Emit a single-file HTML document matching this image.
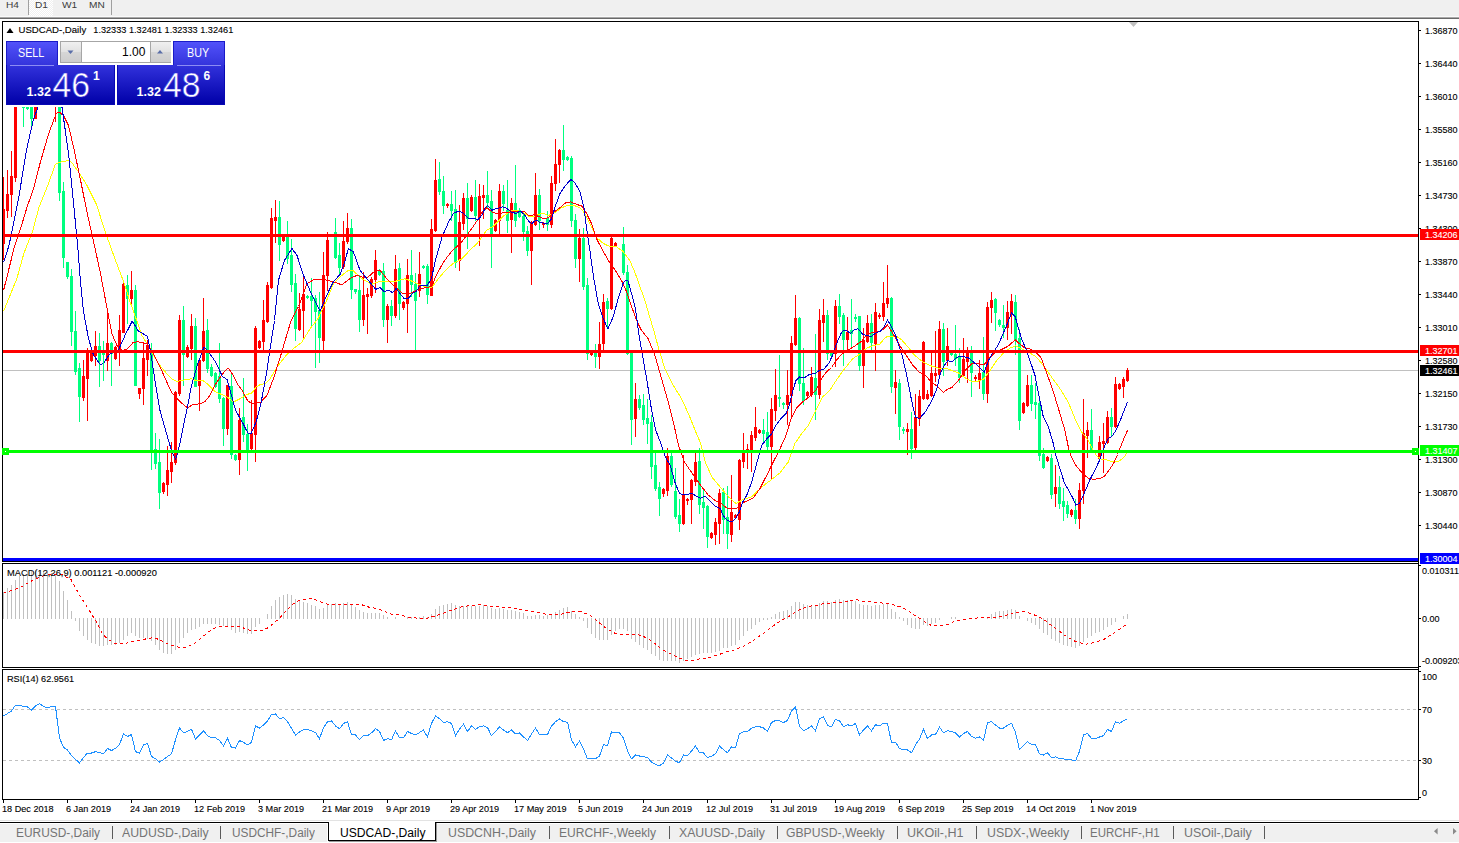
<!DOCTYPE html>
<html><head><meta charset="utf-8"><title>USDCAD-,Daily</title>
<style>
html,body{margin:0;padding:0;background:#fff;}
body{width:1459px;height:843px;overflow:hidden;position:relative;font-family:"Liberation Sans",sans-serif;}
#tb{position:absolute;left:0;top:0;width:1459px;height:16px;background:#f0f0f0;}
.tbt{transform-origin:0 0;transform:scaleX(1.08);position:absolute;top:-1px;font-size:9.4px;line-height:12px;color:#3c3c3c;white-space:nowrap;}
#chart{position:absolute;left:0;top:0;}
svg text{font-family:"Liberation Sans",sans-serif;}
.ax{font-size:9.7px;fill:#000;stroke:#000;stroke-width:0.12px;}
.axw{font-size:9.7px;fill:#fff;stroke:#fff;stroke-width:0.12px;}
.dt{font-size:9px;fill:#000;}
.ttl{font-size:9.5px;fill:#000;}
#tabs{position:absolute;left:0;top:824px;width:1459px;height:18px;background:#f0f0f0;}
.tab{transform-origin:0 0;position:absolute;top:826px;font-size:12px;line-height:14px;color:#747474;white-space:nowrap;}
.sep{position:absolute;top:826px;width:1px;height:13px;background:#5a5a5a;}
/* one click panel */
#ocp{position:absolute;left:6px;top:41px;width:220px;height:66px;background:#fff;}
.pb{position:absolute;background:linear-gradient(#4a4af6,#0000aa);}
.pt{position:absolute;color:#fff;white-space:nowrap;}
</style></head><body>
<div id="tb"></div>
<div style="position:absolute;left:0;top:16px;width:1459px;height:1px;background:#fafafa"></div>
<div style="position:absolute;left:0;top:17px;width:1459px;height:1px;background:#a8a8a8"></div>
<div style="position:absolute;left:0;top:18px;width:1459px;height:1px;background:#696969"></div>
<div style="position:absolute;left:29px;top:0;width:24px;height:16px;background:repeating-conic-gradient(#ffffff 0 25%,#f0f0f0 0 50%) 0 0/2px 2px"></div>
<div style="position:absolute;left:28px;top:0;width:1px;height:15px;background:#a0a0a0"></div>
<div style="position:absolute;left:111px;top:0;width:1px;height:15px;background:#a0a0a0"></div>
<div class="tbt" style="left:5.5px">H4</div>
<div class="tbt" style="left:35px">D1</div>
<div class="tbt" style="left:62px">W1</div>
<div class="tbt" style="left:88.5px">MN</div>

<svg id="chart" width="1459" height="843" viewBox="0 0 1459 843">
<g shape-rendering="crispEdges">
<rect x="3" y="370" width="1415" height="1" fill="#c0c0c0"/>
<path d="M3 709.5H1418M3 760.5H1418" stroke="#c0c0c0" stroke-width="1" stroke-dasharray="3 3" fill="none"/>
<rect x="3" y="592" width="1" height="27" fill="#c0c0c0"/>
<rect x="7" y="588" width="1" height="31" fill="#c0c0c0"/>
<rect x="11" y="585" width="1" height="34" fill="#c0c0c0"/>
<rect x="15" y="580" width="1" height="39" fill="#c0c0c0"/>
<rect x="19" y="576" width="1" height="43" fill="#c0c0c0"/>
<rect x="23" y="574" width="1" height="45" fill="#c0c0c0"/>
<rect x="27" y="572" width="1" height="47" fill="#c0c0c0"/>
<rect x="31" y="571" width="1" height="48" fill="#c0c0c0"/>
<rect x="35" y="570" width="1" height="49" fill="#c0c0c0"/>
<rect x="39" y="570" width="1" height="49" fill="#c0c0c0"/>
<rect x="43" y="571" width="1" height="48" fill="#c0c0c0"/>
<rect x="47" y="572" width="1" height="47" fill="#c0c0c0"/>
<rect x="51" y="573" width="1" height="46" fill="#c0c0c0"/>
<rect x="55" y="576" width="1" height="43" fill="#c0c0c0"/>
<rect x="59" y="581" width="1" height="38" fill="#c0c0c0"/>
<rect x="63" y="591" width="1" height="28" fill="#c0c0c0"/>
<rect x="67" y="600" width="1" height="19" fill="#c0c0c0"/>
<rect x="71" y="611" width="1" height="8" fill="#c0c0c0"/>
<rect x="75" y="618" width="1" height="3" fill="#c0c0c0"/>
<rect x="79" y="618" width="1" height="13" fill="#c0c0c0"/>
<rect x="83" y="618" width="1" height="18" fill="#c0c0c0"/>
<rect x="87" y="618" width="1" height="22" fill="#c0c0c0"/>
<rect x="91" y="618" width="1" height="25" fill="#c0c0c0"/>
<rect x="95" y="618" width="1" height="26" fill="#c0c0c0"/>
<rect x="99" y="618" width="1" height="28" fill="#c0c0c0"/>
<rect x="103" y="618" width="1" height="28" fill="#c0c0c0"/>
<rect x="107" y="618" width="1" height="27" fill="#c0c0c0"/>
<rect x="111" y="618" width="1" height="27" fill="#c0c0c0"/>
<rect x="115" y="618" width="1" height="27" fill="#c0c0c0"/>
<rect x="119" y="618" width="1" height="25" fill="#c0c0c0"/>
<rect x="123" y="618" width="1" height="22" fill="#c0c0c0"/>
<rect x="127" y="618" width="1" height="18" fill="#c0c0c0"/>
<rect x="131" y="618" width="1" height="15" fill="#c0c0c0"/>
<rect x="135" y="618" width="1" height="18" fill="#c0c0c0"/>
<rect x="139" y="618" width="1" height="20" fill="#c0c0c0"/>
<rect x="143" y="618" width="1" height="20" fill="#c0c0c0"/>
<rect x="147" y="618" width="1" height="21" fill="#c0c0c0"/>
<rect x="151" y="618" width="1" height="23" fill="#c0c0c0"/>
<rect x="155" y="618" width="1" height="27" fill="#c0c0c0"/>
<rect x="159" y="618" width="1" height="32" fill="#c0c0c0"/>
<rect x="163" y="618" width="1" height="35" fill="#c0c0c0"/>
<rect x="167" y="618" width="1" height="36" fill="#c0c0c0"/>
<rect x="171" y="618" width="1" height="36" fill="#c0c0c0"/>
<rect x="175" y="618" width="1" height="32" fill="#c0c0c0"/>
<rect x="179" y="618" width="1" height="25" fill="#c0c0c0"/>
<rect x="183" y="618" width="1" height="20" fill="#c0c0c0"/>
<rect x="187" y="618" width="1" height="15" fill="#c0c0c0"/>
<rect x="191" y="618" width="1" height="12" fill="#c0c0c0"/>
<rect x="195" y="618" width="1" height="11" fill="#c0c0c0"/>
<rect x="199" y="618" width="1" height="9" fill="#c0c0c0"/>
<rect x="203" y="618" width="1" height="6" fill="#c0c0c0"/>
<rect x="207" y="618" width="1" height="6" fill="#c0c0c0"/>
<rect x="211" y="618" width="1" height="6" fill="#c0c0c0"/>
<rect x="215" y="618" width="1" height="6" fill="#c0c0c0"/>
<rect x="219" y="618" width="1" height="7" fill="#c0c0c0"/>
<rect x="223" y="618" width="1" height="8" fill="#c0c0c0"/>
<rect x="227" y="618" width="1" height="9" fill="#c0c0c0"/>
<rect x="231" y="618" width="1" height="12" fill="#c0c0c0"/>
<rect x="235" y="618" width="1" height="15" fill="#c0c0c0"/>
<rect x="239" y="618" width="1" height="14" fill="#c0c0c0"/>
<rect x="243" y="618" width="1" height="15" fill="#c0c0c0"/>
<rect x="247" y="618" width="1" height="16" fill="#c0c0c0"/>
<rect x="251" y="618" width="1" height="16" fill="#c0c0c0"/>
<rect x="255" y="618" width="1" height="9" fill="#c0c0c0"/>
<rect x="259" y="618" width="1" height="6" fill="#c0c0c0"/>
<rect x="267" y="614" width="1" height="5" fill="#c0c0c0"/>
<rect x="271" y="606" width="1" height="13" fill="#c0c0c0"/>
<rect x="275" y="600" width="1" height="19" fill="#c0c0c0"/>
<rect x="279" y="597" width="1" height="22" fill="#c0c0c0"/>
<rect x="283" y="595" width="1" height="24" fill="#c0c0c0"/>
<rect x="287" y="594" width="1" height="25" fill="#c0c0c0"/>
<rect x="291" y="595" width="1" height="24" fill="#c0c0c0"/>
<rect x="295" y="599" width="1" height="20" fill="#c0c0c0"/>
<rect x="299" y="601" width="1" height="18" fill="#c0c0c0"/>
<rect x="303" y="602" width="1" height="17" fill="#c0c0c0"/>
<rect x="307" y="603" width="1" height="16" fill="#c0c0c0"/>
<rect x="311" y="605" width="1" height="14" fill="#c0c0c0"/>
<rect x="315" y="606" width="1" height="13" fill="#c0c0c0"/>
<rect x="319" y="609" width="1" height="10" fill="#c0c0c0"/>
<rect x="323" y="608" width="1" height="11" fill="#c0c0c0"/>
<rect x="327" y="605" width="1" height="14" fill="#c0c0c0"/>
<rect x="331" y="604" width="1" height="15" fill="#c0c0c0"/>
<rect x="335" y="603" width="1" height="16" fill="#c0c0c0"/>
<rect x="339" y="604" width="1" height="15" fill="#c0c0c0"/>
<rect x="343" y="603" width="1" height="16" fill="#c0c0c0"/>
<rect x="347" y="602" width="1" height="17" fill="#c0c0c0"/>
<rect x="351" y="605" width="1" height="14" fill="#c0c0c0"/>
<rect x="355" y="607" width="1" height="12" fill="#c0c0c0"/>
<rect x="359" y="610" width="1" height="9" fill="#c0c0c0"/>
<rect x="363" y="612" width="1" height="7" fill="#c0c0c0"/>
<rect x="367" y="613" width="1" height="6" fill="#c0c0c0"/>
<rect x="371" y="613" width="1" height="6" fill="#c0c0c0"/>
<rect x="375" y="613" width="1" height="6" fill="#c0c0c0"/>
<rect x="379" y="613" width="1" height="6" fill="#c0c0c0"/>
<rect x="383" y="615" width="1" height="4" fill="#c0c0c0"/>
<rect x="387" y="617" width="1" height="2" fill="#c0c0c0"/>
<rect x="395" y="617" width="1" height="2" fill="#c0c0c0"/>
<rect x="407" y="617" width="1" height="2" fill="#c0c0c0"/>
<rect x="411" y="617" width="1" height="2" fill="#c0c0c0"/>
<rect x="419" y="617" width="1" height="2" fill="#c0c0c0"/>
<rect x="423" y="616" width="1" height="3" fill="#c0c0c0"/>
<rect x="427" y="617" width="1" height="2" fill="#c0c0c0"/>
<rect x="431" y="614" width="1" height="5" fill="#c0c0c0"/>
<rect x="435" y="609" width="1" height="10" fill="#c0c0c0"/>
<rect x="439" y="606" width="1" height="13" fill="#c0c0c0"/>
<rect x="443" y="605" width="1" height="14" fill="#c0c0c0"/>
<rect x="447" y="604" width="1" height="15" fill="#c0c0c0"/>
<rect x="451" y="603" width="1" height="16" fill="#c0c0c0"/>
<rect x="455" y="605" width="1" height="14" fill="#c0c0c0"/>
<rect x="459" y="606" width="1" height="13" fill="#c0c0c0"/>
<rect x="463" y="606" width="1" height="13" fill="#c0c0c0"/>
<rect x="467" y="605" width="1" height="14" fill="#c0c0c0"/>
<rect x="471" y="606" width="1" height="13" fill="#c0c0c0"/>
<rect x="475" y="606" width="1" height="13" fill="#c0c0c0"/>
<rect x="479" y="606" width="1" height="13" fill="#c0c0c0"/>
<rect x="483" y="605" width="1" height="14" fill="#c0c0c0"/>
<rect x="487" y="606" width="1" height="13" fill="#c0c0c0"/>
<rect x="491" y="608" width="1" height="11" fill="#c0c0c0"/>
<rect x="495" y="609" width="1" height="10" fill="#c0c0c0"/>
<rect x="499" y="608" width="1" height="11" fill="#c0c0c0"/>
<rect x="503" y="609" width="1" height="10" fill="#c0c0c0"/>
<rect x="507" y="610" width="1" height="9" fill="#c0c0c0"/>
<rect x="511" y="610" width="1" height="9" fill="#c0c0c0"/>
<rect x="515" y="611" width="1" height="8" fill="#c0c0c0"/>
<rect x="519" y="612" width="1" height="7" fill="#c0c0c0"/>
<rect x="523" y="613" width="1" height="6" fill="#c0c0c0"/>
<rect x="527" y="616" width="1" height="3" fill="#c0c0c0"/>
<rect x="531" y="616" width="1" height="3" fill="#c0c0c0"/>
<rect x="535" y="615" width="1" height="4" fill="#c0c0c0"/>
<rect x="539" y="615" width="1" height="4" fill="#c0c0c0"/>
<rect x="543" y="616" width="1" height="3" fill="#c0c0c0"/>
<rect x="547" y="615" width="1" height="4" fill="#c0c0c0"/>
<rect x="551" y="614" width="1" height="5" fill="#c0c0c0"/>
<rect x="555" y="612" width="1" height="7" fill="#c0c0c0"/>
<rect x="559" y="610" width="1" height="9" fill="#c0c0c0"/>
<rect x="563" y="608" width="1" height="11" fill="#c0c0c0"/>
<rect x="567" y="607" width="1" height="12" fill="#c0c0c0"/>
<rect x="571" y="611" width="1" height="8" fill="#c0c0c0"/>
<rect x="575" y="614" width="1" height="5" fill="#c0c0c0"/>
<rect x="579" y="617" width="1" height="2" fill="#c0c0c0"/>
<rect x="583" y="618" width="1" height="3" fill="#c0c0c0"/>
<rect x="587" y="618" width="1" height="10" fill="#c0c0c0"/>
<rect x="591" y="618" width="1" height="16" fill="#c0c0c0"/>
<rect x="595" y="618" width="1" height="20" fill="#c0c0c0"/>
<rect x="599" y="618" width="1" height="22" fill="#c0c0c0"/>
<rect x="603" y="618" width="1" height="22" fill="#c0c0c0"/>
<rect x="607" y="618" width="1" height="22" fill="#c0c0c0"/>
<rect x="611" y="618" width="1" height="17" fill="#c0c0c0"/>
<rect x="615" y="618" width="1" height="13" fill="#c0c0c0"/>
<rect x="619" y="618" width="1" height="11" fill="#c0c0c0"/>
<rect x="623" y="618" width="1" height="11" fill="#c0c0c0"/>
<rect x="627" y="618" width="1" height="13" fill="#c0c0c0"/>
<rect x="631" y="618" width="1" height="21" fill="#c0c0c0"/>
<rect x="635" y="618" width="1" height="24" fill="#c0c0c0"/>
<rect x="639" y="618" width="1" height="27" fill="#c0c0c0"/>
<rect x="643" y="618" width="1" height="30" fill="#c0c0c0"/>
<rect x="647" y="618" width="1" height="32" fill="#c0c0c0"/>
<rect x="651" y="618" width="1" height="36" fill="#c0c0c0"/>
<rect x="655" y="618" width="1" height="38" fill="#c0c0c0"/>
<rect x="659" y="618" width="1" height="42" fill="#c0c0c0"/>
<rect x="663" y="618" width="1" height="43" fill="#c0c0c0"/>
<rect x="667" y="618" width="1" height="43" fill="#c0c0c0"/>
<rect x="671" y="618" width="1" height="43" fill="#c0c0c0"/>
<rect x="675" y="618" width="1" height="43" fill="#c0c0c0"/>
<rect x="679" y="618" width="1" height="45" fill="#c0c0c0"/>
<rect x="683" y="618" width="1" height="43" fill="#c0c0c0"/>
<rect x="687" y="618" width="1" height="41" fill="#c0c0c0"/>
<rect x="691" y="618" width="1" height="39" fill="#c0c0c0"/>
<rect x="695" y="618" width="1" height="37" fill="#c0c0c0"/>
<rect x="699" y="618" width="1" height="36" fill="#c0c0c0"/>
<rect x="703" y="618" width="1" height="35" fill="#c0c0c0"/>
<rect x="707" y="618" width="1" height="35" fill="#c0c0c0"/>
<rect x="711" y="618" width="1" height="35" fill="#c0c0c0"/>
<rect x="715" y="618" width="1" height="34" fill="#c0c0c0"/>
<rect x="719" y="618" width="1" height="33" fill="#c0c0c0"/>
<rect x="723" y="618" width="1" height="30" fill="#c0c0c0"/>
<rect x="727" y="618" width="1" height="30" fill="#c0c0c0"/>
<rect x="731" y="618" width="1" height="28" fill="#c0c0c0"/>
<rect x="735" y="618" width="1" height="27" fill="#c0c0c0"/>
<rect x="739" y="618" width="1" height="22" fill="#c0c0c0"/>
<rect x="743" y="618" width="1" height="18" fill="#c0c0c0"/>
<rect x="747" y="618" width="1" height="13" fill="#c0c0c0"/>
<rect x="751" y="618" width="1" height="11" fill="#c0c0c0"/>
<rect x="755" y="618" width="1" height="7" fill="#c0c0c0"/>
<rect x="759" y="618" width="1" height="4" fill="#c0c0c0"/>
<rect x="763" y="618" width="1" height="2" fill="#c0c0c0"/>
<rect x="767" y="618" width="1" height="2" fill="#c0c0c0"/>
<rect x="771" y="617" width="1" height="2" fill="#c0c0c0"/>
<rect x="775" y="614" width="1" height="5" fill="#c0c0c0"/>
<rect x="779" y="612" width="1" height="7" fill="#c0c0c0"/>
<rect x="783" y="611" width="1" height="8" fill="#c0c0c0"/>
<rect x="787" y="610" width="1" height="9" fill="#c0c0c0"/>
<rect x="791" y="606" width="1" height="13" fill="#c0c0c0"/>
<rect x="795" y="602" width="1" height="17" fill="#c0c0c0"/>
<rect x="799" y="602" width="1" height="17" fill="#c0c0c0"/>
<rect x="803" y="604" width="1" height="15" fill="#c0c0c0"/>
<rect x="807" y="605" width="1" height="14" fill="#c0c0c0"/>
<rect x="811" y="605" width="1" height="14" fill="#c0c0c0"/>
<rect x="815" y="605" width="1" height="14" fill="#c0c0c0"/>
<rect x="819" y="603" width="1" height="16" fill="#c0c0c0"/>
<rect x="823" y="601" width="1" height="18" fill="#c0c0c0"/>
<rect x="827" y="601" width="1" height="18" fill="#c0c0c0"/>
<rect x="831" y="602" width="1" height="17" fill="#c0c0c0"/>
<rect x="835" y="600" width="1" height="19" fill="#c0c0c0"/>
<rect x="839" y="599" width="1" height="20" fill="#c0c0c0"/>
<rect x="843" y="600" width="1" height="19" fill="#c0c0c0"/>
<rect x="847" y="600" width="1" height="19" fill="#c0c0c0"/>
<rect x="851" y="601" width="1" height="18" fill="#c0c0c0"/>
<rect x="855" y="601" width="1" height="18" fill="#c0c0c0"/>
<rect x="859" y="604" width="1" height="15" fill="#c0c0c0"/>
<rect x="863" y="605" width="1" height="14" fill="#c0c0c0"/>
<rect x="867" y="605" width="1" height="14" fill="#c0c0c0"/>
<rect x="871" y="606" width="1" height="13" fill="#c0c0c0"/>
<rect x="875" y="605" width="1" height="14" fill="#c0c0c0"/>
<rect x="879" y="605" width="1" height="14" fill="#c0c0c0"/>
<rect x="883" y="604" width="1" height="15" fill="#c0c0c0"/>
<rect x="887" y="603" width="1" height="16" fill="#c0c0c0"/>
<rect x="891" y="609" width="1" height="10" fill="#c0c0c0"/>
<rect x="895" y="612" width="1" height="7" fill="#c0c0c0"/>
<rect x="899" y="617" width="1" height="2" fill="#c0c0c0"/>
<rect x="903" y="618" width="1" height="3" fill="#c0c0c0"/>
<rect x="907" y="618" width="1" height="7" fill="#c0c0c0"/>
<rect x="911" y="618" width="1" height="10" fill="#c0c0c0"/>
<rect x="915" y="618" width="1" height="11" fill="#c0c0c0"/>
<rect x="919" y="618" width="1" height="11" fill="#c0c0c0"/>
<rect x="923" y="618" width="1" height="7" fill="#c0c0c0"/>
<rect x="927" y="618" width="1" height="8" fill="#c0c0c0"/>
<rect x="931" y="618" width="1" height="6" fill="#c0c0c0"/>
<rect x="935" y="618" width="1" height="5" fill="#c0c0c0"/>
<rect x="939" y="618" width="1" height="2" fill="#c0c0c0"/>
<rect x="951" y="617" width="1" height="2" fill="#c0c0c0"/>
<rect x="955" y="617" width="1" height="2" fill="#c0c0c0"/>
<rect x="987" y="617" width="1" height="2" fill="#c0c0c0"/>
<rect x="991" y="614" width="1" height="5" fill="#c0c0c0"/>
<rect x="995" y="612" width="1" height="7" fill="#c0c0c0"/>
<rect x="999" y="611" width="1" height="8" fill="#c0c0c0"/>
<rect x="1003" y="611" width="1" height="8" fill="#c0c0c0"/>
<rect x="1007" y="610" width="1" height="9" fill="#c0c0c0"/>
<rect x="1011" y="609" width="1" height="10" fill="#c0c0c0"/>
<rect x="1015" y="610" width="1" height="9" fill="#c0c0c0"/>
<rect x="1019" y="616" width="1" height="3" fill="#c0c0c0"/>
<rect x="1027" y="618" width="1" height="3" fill="#c0c0c0"/>
<rect x="1031" y="618" width="1" height="5" fill="#c0c0c0"/>
<rect x="1035" y="618" width="1" height="7" fill="#c0c0c0"/>
<rect x="1039" y="618" width="1" height="11" fill="#c0c0c0"/>
<rect x="1043" y="618" width="1" height="15" fill="#c0c0c0"/>
<rect x="1047" y="618" width="1" height="17" fill="#c0c0c0"/>
<rect x="1051" y="618" width="1" height="21" fill="#c0c0c0"/>
<rect x="1055" y="618" width="1" height="23" fill="#c0c0c0"/>
<rect x="1059" y="618" width="1" height="25" fill="#c0c0c0"/>
<rect x="1063" y="618" width="1" height="27" fill="#c0c0c0"/>
<rect x="1067" y="618" width="1" height="28" fill="#c0c0c0"/>
<rect x="1071" y="618" width="1" height="29" fill="#c0c0c0"/>
<rect x="1075" y="618" width="1" height="30" fill="#c0c0c0"/>
<rect x="1079" y="618" width="1" height="28" fill="#c0c0c0"/>
<rect x="1083" y="618" width="1" height="24" fill="#c0c0c0"/>
<rect x="1087" y="618" width="1" height="20" fill="#c0c0c0"/>
<rect x="1091" y="618" width="1" height="18" fill="#c0c0c0"/>
<rect x="1095" y="618" width="1" height="15" fill="#c0c0c0"/>
<rect x="1099" y="618" width="1" height="14" fill="#c0c0c0"/>
<rect x="1103" y="618" width="1" height="12" fill="#c0c0c0"/>
<rect x="1107" y="618" width="1" height="9" fill="#c0c0c0"/>
<rect x="1111" y="618" width="1" height="7" fill="#c0c0c0"/>
<rect x="1115" y="618" width="1" height="4" fill="#c0c0c0"/>
<rect x="1123" y="616" width="1" height="3" fill="#c0c0c0"/>
<rect x="1127" y="614" width="1" height="5" fill="#c0c0c0"/>
<rect x="3" y="177" width="1" height="83" fill="#ff0000"/>
<rect x="2" y="209" width="3" height="35" fill="#ff0000"/>
<rect x="7" y="170" width="1" height="48" fill="#ff0000"/>
<rect x="6" y="194" width="3" height="17" fill="#ff0000"/>
<rect x="11" y="151" width="1" height="66" fill="#ff0000"/>
<rect x="10" y="176" width="3" height="19" fill="#ff0000"/>
<rect x="15" y="107" width="1" height="75" fill="#ff0000"/>
<rect x="14" y="107" width="3" height="71" fill="#ff0000"/>
<rect x="23" y="107" width="1" height="20" fill="#00ff7f"/>
<rect x="22" y="107" width="3" height="1" fill="#00ff7f"/>
<rect x="27" y="107" width="1" height="3" fill="#00ff7f"/>
<rect x="26" y="107" width="3" height="2" fill="#00ff7f"/>
<rect x="31" y="107" width="1" height="19" fill="#00ff7f"/>
<rect x="30" y="107" width="3" height="12" fill="#00ff7f"/>
<rect x="35" y="107" width="1" height="12" fill="#ff0000"/>
<rect x="34" y="107" width="3" height="12" fill="#ff0000"/>
<rect x="55" y="107" width="1" height="15" fill="#ff0000"/>
<rect x="59" y="107" width="1" height="94" fill="#00ff7f"/>
<rect x="58" y="107" width="3" height="86" fill="#00ff7f"/>
<rect x="63" y="182" width="1" height="86" fill="#00ff7f"/>
<rect x="62" y="191" width="3" height="67" fill="#00ff7f"/>
<rect x="67" y="262" width="1" height="17" fill="#00ff7f"/>
<rect x="66" y="262" width="3" height="15" fill="#00ff7f"/>
<rect x="71" y="269" width="1" height="77" fill="#00ff7f"/>
<rect x="70" y="276" width="3" height="56" fill="#00ff7f"/>
<rect x="75" y="311" width="1" height="64" fill="#00ff7f"/>
<rect x="74" y="331" width="3" height="41" fill="#00ff7f"/>
<rect x="79" y="363" width="1" height="59" fill="#00ff7f"/>
<rect x="78" y="368" width="3" height="29" fill="#00ff7f"/>
<rect x="83" y="360" width="1" height="41" fill="#ff0000"/>
<rect x="82" y="376" width="3" height="22" fill="#ff0000"/>
<rect x="87" y="348" width="1" height="73" fill="#ff0000"/>
<rect x="86" y="351" width="3" height="28" fill="#ff0000"/>
<rect x="91" y="350" width="1" height="12" fill="#ff0000"/>
<rect x="90" y="351" width="3" height="10" fill="#ff0000"/>
<rect x="95" y="331" width="1" height="35" fill="#ff0000"/>
<rect x="94" y="346" width="3" height="10" fill="#ff0000"/>
<rect x="99" y="333" width="1" height="54" fill="#00ff7f"/>
<rect x="98" y="346" width="3" height="15" fill="#00ff7f"/>
<rect x="103" y="341" width="1" height="40" fill="#00ff7f"/>
<rect x="102" y="350" width="3" height="5" fill="#00ff7f"/>
<rect x="107" y="311" width="1" height="60" fill="#ff0000"/>
<rect x="106" y="343" width="3" height="18" fill="#ff0000"/>
<rect x="111" y="342" width="1" height="44" fill="#00ff7f"/>
<rect x="110" y="343" width="3" height="11" fill="#00ff7f"/>
<rect x="115" y="346" width="1" height="14" fill="#ff0000"/>
<rect x="114" y="347" width="3" height="12" fill="#ff0000"/>
<rect x="119" y="315" width="1" height="51" fill="#ff0000"/>
<rect x="118" y="330" width="3" height="20" fill="#ff0000"/>
<rect x="123" y="283" width="1" height="50" fill="#ff0000"/>
<rect x="122" y="284" width="3" height="49" fill="#ff0000"/>
<rect x="127" y="275" width="1" height="49" fill="#00ff7f"/>
<rect x="126" y="285" width="3" height="14" fill="#00ff7f"/>
<rect x="131" y="271" width="1" height="36" fill="#ff0000"/>
<rect x="130" y="290" width="3" height="9" fill="#ff0000"/>
<rect x="135" y="285" width="1" height="101" fill="#00ff7f"/>
<rect x="134" y="290" width="3" height="96" fill="#00ff7f"/>
<rect x="139" y="388" width="1" height="11" fill="#ff0000"/>
<rect x="138" y="388" width="3" height="6" fill="#ff0000"/>
<rect x="143" y="342" width="1" height="63" fill="#ff0000"/>
<rect x="142" y="358" width="3" height="31" fill="#ff0000"/>
<rect x="147" y="340" width="1" height="36" fill="#ff0000"/>
<rect x="146" y="345" width="3" height="15" fill="#ff0000"/>
<rect x="151" y="343" width="1" height="127" fill="#00ff7f"/>
<rect x="150" y="350" width="3" height="101" fill="#00ff7f"/>
<rect x="155" y="433" width="1" height="36" fill="#00ff7f"/>
<rect x="154" y="449" width="3" height="15" fill="#00ff7f"/>
<rect x="159" y="439" width="1" height="70" fill="#00ff7f"/>
<rect x="158" y="462" width="3" height="31" fill="#00ff7f"/>
<rect x="163" y="482" width="1" height="12" fill="#ff0000"/>
<rect x="162" y="483" width="3" height="9" fill="#ff0000"/>
<rect x="167" y="446" width="1" height="50" fill="#ff0000"/>
<rect x="166" y="470" width="3" height="15" fill="#ff0000"/>
<rect x="171" y="442" width="1" height="41" fill="#ff0000"/>
<rect x="170" y="462" width="3" height="10" fill="#ff0000"/>
<rect x="175" y="391" width="1" height="74" fill="#ff0000"/>
<rect x="174" y="392" width="3" height="71" fill="#ff0000"/>
<rect x="179" y="315" width="1" height="81" fill="#ff0000"/>
<rect x="178" y="320" width="3" height="74" fill="#ff0000"/>
<rect x="183" y="306" width="1" height="80" fill="#00ff7f"/>
<rect x="182" y="320" width="3" height="35" fill="#00ff7f"/>
<rect x="187" y="345" width="1" height="13" fill="#ff0000"/>
<rect x="186" y="347" width="3" height="10" fill="#ff0000"/>
<rect x="191" y="314" width="1" height="46" fill="#ff0000"/>
<rect x="190" y="326" width="3" height="23" fill="#ff0000"/>
<rect x="195" y="318" width="1" height="69" fill="#00ff7f"/>
<rect x="194" y="326" width="3" height="61" fill="#00ff7f"/>
<rect x="199" y="359" width="1" height="52" fill="#ff0000"/>
<rect x="198" y="360" width="3" height="26" fill="#ff0000"/>
<rect x="203" y="298" width="1" height="64" fill="#ff0000"/>
<rect x="202" y="331" width="3" height="30" fill="#ff0000"/>
<rect x="207" y="319" width="1" height="54" fill="#00ff7f"/>
<rect x="206" y="330" width="3" height="39" fill="#00ff7f"/>
<rect x="211" y="364" width="1" height="13" fill="#00ff7f"/>
<rect x="210" y="367" width="3" height="9" fill="#00ff7f"/>
<rect x="215" y="372" width="1" height="16" fill="#00ff7f"/>
<rect x="214" y="373" width="3" height="14" fill="#00ff7f"/>
<rect x="219" y="343" width="1" height="60" fill="#00ff7f"/>
<rect x="218" y="376" width="3" height="23" fill="#00ff7f"/>
<rect x="223" y="397" width="1" height="49" fill="#00ff7f"/>
<rect x="222" y="398" width="3" height="31" fill="#00ff7f"/>
<rect x="227" y="385" width="1" height="50" fill="#ff0000"/>
<rect x="226" y="385" width="3" height="44" fill="#ff0000"/>
<rect x="231" y="374" width="1" height="85" fill="#00ff7f"/>
<rect x="230" y="386" width="3" height="69" fill="#00ff7f"/>
<rect x="235" y="454" width="1" height="7" fill="#00ff7f"/>
<rect x="234" y="455" width="3" height="5" fill="#00ff7f"/>
<rect x="239" y="408" width="1" height="67" fill="#ff0000"/>
<rect x="238" y="420" width="3" height="40" fill="#ff0000"/>
<rect x="243" y="378" width="1" height="64" fill="#00ff7f"/>
<rect x="242" y="417" width="3" height="18" fill="#00ff7f"/>
<rect x="247" y="424" width="1" height="47" fill="#00ff7f"/>
<rect x="246" y="434" width="3" height="16" fill="#00ff7f"/>
<rect x="251" y="400" width="1" height="51" fill="#ff0000"/>
<rect x="250" y="433" width="3" height="16" fill="#ff0000"/>
<rect x="255" y="326" width="1" height="136" fill="#ff0000"/>
<rect x="254" y="328" width="3" height="107" fill="#ff0000"/>
<rect x="259" y="340" width="1" height="9" fill="#ff0000"/>
<rect x="258" y="341" width="3" height="7" fill="#ff0000"/>
<rect x="263" y="300" width="1" height="50" fill="#ff0000"/>
<rect x="262" y="320" width="3" height="22" fill="#ff0000"/>
<rect x="267" y="282" width="1" height="41" fill="#ff0000"/>
<rect x="266" y="285" width="3" height="37" fill="#ff0000"/>
<rect x="271" y="208" width="1" height="81" fill="#ff0000"/>
<rect x="270" y="218" width="3" height="70" fill="#ff0000"/>
<rect x="275" y="200" width="1" height="43" fill="#ff0000"/>
<rect x="274" y="217" width="3" height="4" fill="#ff0000"/>
<rect x="279" y="201" width="1" height="60" fill="#00ff7f"/>
<rect x="278" y="217" width="3" height="28" fill="#00ff7f"/>
<rect x="283" y="236" width="1" height="6" fill="#ff0000"/>
<rect x="282" y="237" width="3" height="4" fill="#ff0000"/>
<rect x="287" y="221" width="1" height="43" fill="#00ff7f"/>
<rect x="286" y="237" width="3" height="22" fill="#00ff7f"/>
<rect x="291" y="239" width="1" height="53" fill="#00ff7f"/>
<rect x="290" y="255" width="3" height="30" fill="#00ff7f"/>
<rect x="295" y="274" width="1" height="67" fill="#00ff7f"/>
<rect x="294" y="283" width="3" height="46" fill="#00ff7f"/>
<rect x="299" y="293" width="1" height="38" fill="#ff0000"/>
<rect x="298" y="309" width="3" height="21" fill="#ff0000"/>
<rect x="303" y="274" width="1" height="64" fill="#ff0000"/>
<rect x="302" y="294" width="3" height="17" fill="#ff0000"/>
<rect x="307" y="295" width="1" height="4" fill="#00ff7f"/>
<rect x="306" y="296" width="3" height="2" fill="#00ff7f"/>
<rect x="311" y="278" width="1" height="50" fill="#00ff7f"/>
<rect x="310" y="296" width="3" height="5" fill="#00ff7f"/>
<rect x="315" y="295" width="1" height="73" fill="#00ff7f"/>
<rect x="314" y="298" width="3" height="14" fill="#00ff7f"/>
<rect x="319" y="292" width="1" height="71" fill="#00ff7f"/>
<rect x="318" y="310" width="3" height="28" fill="#00ff7f"/>
<rect x="323" y="252" width="1" height="98" fill="#ff0000"/>
<rect x="322" y="275" width="3" height="66" fill="#ff0000"/>
<rect x="327" y="232" width="1" height="59" fill="#ff0000"/>
<rect x="326" y="240" width="3" height="36" fill="#ff0000"/>
<rect x="335" y="218" width="1" height="41" fill="#00ff7f"/>
<rect x="334" y="232" width="3" height="26" fill="#00ff7f"/>
<rect x="339" y="243" width="1" height="31" fill="#00ff7f"/>
<rect x="338" y="255" width="3" height="13" fill="#00ff7f"/>
<rect x="343" y="221" width="1" height="48" fill="#ff0000"/>
<rect x="342" y="241" width="3" height="26" fill="#ff0000"/>
<rect x="347" y="213" width="1" height="31" fill="#ff0000"/>
<rect x="346" y="228" width="3" height="14" fill="#ff0000"/>
<rect x="351" y="219" width="1" height="80" fill="#00ff7f"/>
<rect x="350" y="228" width="3" height="62" fill="#00ff7f"/>
<rect x="355" y="289" width="1" height="5" fill="#00ff7f"/>
<rect x="354" y="289" width="3" height="3" fill="#00ff7f"/>
<rect x="359" y="275" width="1" height="57" fill="#00ff7f"/>
<rect x="358" y="290" width="3" height="30" fill="#00ff7f"/>
<rect x="363" y="272" width="1" height="54" fill="#ff0000"/>
<rect x="362" y="295" width="3" height="25" fill="#ff0000"/>
<rect x="367" y="288" width="1" height="46" fill="#ff0000"/>
<rect x="366" y="294" width="3" height="3" fill="#ff0000"/>
<rect x="371" y="277" width="1" height="21" fill="#ff0000"/>
<rect x="370" y="279" width="3" height="17" fill="#ff0000"/>
<rect x="375" y="250" width="1" height="43" fill="#ff0000"/>
<rect x="374" y="260" width="3" height="20" fill="#ff0000"/>
<rect x="379" y="269" width="1" height="7" fill="#00ff7f"/>
<rect x="378" y="270" width="3" height="5" fill="#00ff7f"/>
<rect x="383" y="263" width="1" height="64" fill="#00ff7f"/>
<rect x="382" y="271" width="3" height="49" fill="#00ff7f"/>
<rect x="387" y="304" width="1" height="39" fill="#ff0000"/>
<rect x="386" y="306" width="3" height="14" fill="#ff0000"/>
<rect x="391" y="300" width="1" height="26" fill="#00ff7f"/>
<rect x="390" y="306" width="3" height="10" fill="#00ff7f"/>
<rect x="395" y="255" width="1" height="63" fill="#ff0000"/>
<rect x="394" y="269" width="3" height="47" fill="#ff0000"/>
<rect x="399" y="263" width="1" height="57" fill="#00ff7f"/>
<rect x="398" y="268" width="3" height="36" fill="#00ff7f"/>
<rect x="403" y="301" width="1" height="9" fill="#ff0000"/>
<rect x="402" y="302" width="3" height="6" fill="#ff0000"/>
<rect x="407" y="259" width="1" height="74" fill="#ff0000"/>
<rect x="406" y="275" width="3" height="29" fill="#ff0000"/>
<rect x="411" y="250" width="1" height="47" fill="#00ff7f"/>
<rect x="410" y="275" width="3" height="10" fill="#00ff7f"/>
<rect x="415" y="273" width="1" height="77" fill="#00ff7f"/>
<rect x="414" y="284" width="3" height="17" fill="#00ff7f"/>
<rect x="419" y="252" width="1" height="45" fill="#ff0000"/>
<rect x="418" y="274" width="3" height="17" fill="#ff0000"/>
<rect x="423" y="265" width="1" height="4" fill="#00ff7f"/>
<rect x="422" y="266" width="3" height="2" fill="#00ff7f"/>
<rect x="427" y="264" width="1" height="40" fill="#00ff7f"/>
<rect x="426" y="266" width="3" height="29" fill="#00ff7f"/>
<rect x="431" y="219" width="1" height="77" fill="#ff0000"/>
<rect x="430" y="229" width="3" height="67" fill="#ff0000"/>
<rect x="435" y="159" width="1" height="73" fill="#ff0000"/>
<rect x="434" y="180" width="3" height="51" fill="#ff0000"/>
<rect x="439" y="162" width="1" height="33" fill="#00ff7f"/>
<rect x="438" y="179" width="3" height="13" fill="#00ff7f"/>
<rect x="443" y="176" width="1" height="38" fill="#00ff7f"/>
<rect x="442" y="191" width="3" height="15" fill="#00ff7f"/>
<rect x="447" y="203" width="1" height="5" fill="#ff0000"/>
<rect x="446" y="204" width="3" height="2" fill="#ff0000"/>
<rect x="451" y="191" width="1" height="30" fill="#00ff7f"/>
<rect x="450" y="204" width="3" height="7" fill="#00ff7f"/>
<rect x="455" y="190" width="1" height="78" fill="#00ff7f"/>
<rect x="454" y="209" width="3" height="54" fill="#00ff7f"/>
<rect x="459" y="205" width="1" height="66" fill="#ff0000"/>
<rect x="458" y="222" width="3" height="39" fill="#ff0000"/>
<rect x="463" y="193" width="1" height="37" fill="#ff0000"/>
<rect x="462" y="198" width="3" height="26" fill="#ff0000"/>
<rect x="467" y="183" width="1" height="66" fill="#00ff7f"/>
<rect x="466" y="198" width="3" height="21" fill="#00ff7f"/>
<rect x="471" y="195" width="1" height="17" fill="#ff0000"/>
<rect x="470" y="197" width="3" height="14" fill="#ff0000"/>
<rect x="475" y="180" width="1" height="41" fill="#00ff7f"/>
<rect x="474" y="197" width="3" height="19" fill="#00ff7f"/>
<rect x="479" y="184" width="1" height="62" fill="#ff0000"/>
<rect x="478" y="196" width="3" height="21" fill="#ff0000"/>
<rect x="483" y="185" width="1" height="34" fill="#ff0000"/>
<rect x="482" y="195" width="3" height="3" fill="#ff0000"/>
<rect x="487" y="171" width="1" height="37" fill="#00ff7f"/>
<rect x="486" y="195" width="3" height="8" fill="#00ff7f"/>
<rect x="491" y="190" width="1" height="78" fill="#00ff7f"/>
<rect x="490" y="201" width="3" height="35" fill="#00ff7f"/>
<rect x="495" y="219" width="1" height="13" fill="#ff0000"/>
<rect x="494" y="220" width="3" height="11" fill="#ff0000"/>
<rect x="499" y="184" width="1" height="52" fill="#ff0000"/>
<rect x="498" y="191" width="3" height="30" fill="#ff0000"/>
<rect x="503" y="185" width="1" height="26" fill="#00ff7f"/>
<rect x="502" y="191" width="3" height="13" fill="#00ff7f"/>
<rect x="507" y="180" width="1" height="53" fill="#00ff7f"/>
<rect x="506" y="210" width="3" height="11" fill="#00ff7f"/>
<rect x="511" y="198" width="1" height="55" fill="#ff0000"/>
<rect x="510" y="203" width="3" height="17" fill="#ff0000"/>
<rect x="515" y="165" width="1" height="62" fill="#00ff7f"/>
<rect x="514" y="203" width="3" height="18" fill="#00ff7f"/>
<rect x="519" y="208" width="1" height="10" fill="#00ff7f"/>
<rect x="518" y="210" width="3" height="7" fill="#00ff7f"/>
<rect x="523" y="213" width="1" height="28" fill="#00ff7f"/>
<rect x="522" y="216" width="3" height="16" fill="#00ff7f"/>
<rect x="527" y="226" width="1" height="30" fill="#00ff7f"/>
<rect x="526" y="231" width="3" height="20" fill="#00ff7f"/>
<rect x="531" y="221" width="1" height="64" fill="#ff0000"/>
<rect x="530" y="223" width="3" height="28" fill="#ff0000"/>
<rect x="535" y="173" width="1" height="53" fill="#ff0000"/>
<rect x="534" y="195" width="3" height="30" fill="#ff0000"/>
<rect x="539" y="189" width="1" height="41" fill="#00ff7f"/>
<rect x="538" y="195" width="3" height="26" fill="#00ff7f"/>
<rect x="543" y="222" width="1" height="6" fill="#ff0000"/>
<rect x="542" y="223" width="3" height="2" fill="#ff0000"/>
<rect x="547" y="211" width="1" height="20" fill="#00ff7f"/>
<rect x="546" y="218" width="3" height="7" fill="#00ff7f"/>
<rect x="551" y="176" width="1" height="52" fill="#ff0000"/>
<rect x="550" y="183" width="3" height="42" fill="#ff0000"/>
<rect x="555" y="139" width="1" height="52" fill="#ff0000"/>
<rect x="554" y="164" width="3" height="20" fill="#ff0000"/>
<rect x="559" y="149" width="1" height="34" fill="#ff0000"/>
<rect x="558" y="150" width="3" height="15" fill="#ff0000"/>
<rect x="563" y="125" width="1" height="46" fill="#00ff7f"/>
<rect x="562" y="150" width="3" height="10" fill="#00ff7f"/>
<rect x="567" y="156" width="1" height="5" fill="#00ff7f"/>
<rect x="566" y="157" width="3" height="3" fill="#00ff7f"/>
<rect x="571" y="156" width="1" height="71" fill="#00ff7f"/>
<rect x="570" y="158" width="3" height="63" fill="#00ff7f"/>
<rect x="575" y="214" width="1" height="54" fill="#00ff7f"/>
<rect x="574" y="220" width="3" height="39" fill="#00ff7f"/>
<rect x="579" y="229" width="1" height="53" fill="#ff0000"/>
<rect x="578" y="238" width="3" height="21" fill="#ff0000"/>
<rect x="583" y="228" width="1" height="62" fill="#00ff7f"/>
<rect x="582" y="238" width="3" height="49" fill="#00ff7f"/>
<rect x="587" y="278" width="1" height="82" fill="#00ff7f"/>
<rect x="586" y="285" width="3" height="69" fill="#00ff7f"/>
<rect x="591" y="352" width="1" height="4" fill="#ff0000"/>
<rect x="590" y="353" width="3" height="2" fill="#ff0000"/>
<rect x="595" y="344" width="1" height="24" fill="#00ff7f"/>
<rect x="594" y="350" width="3" height="7" fill="#00ff7f"/>
<rect x="599" y="322" width="1" height="47" fill="#ff0000"/>
<rect x="598" y="344" width="3" height="13" fill="#ff0000"/>
<rect x="603" y="294" width="1" height="56" fill="#ff0000"/>
<rect x="602" y="302" width="3" height="42" fill="#ff0000"/>
<rect x="607" y="298" width="1" height="31" fill="#00ff7f"/>
<rect x="606" y="301" width="3" height="8" fill="#00ff7f"/>
<rect x="611" y="236" width="1" height="74" fill="#ff0000"/>
<rect x="610" y="238" width="3" height="71" fill="#ff0000"/>
<rect x="615" y="242" width="1" height="5" fill="#ff0000"/>
<rect x="614" y="243" width="3" height="3" fill="#ff0000"/>
<rect x="623" y="227" width="1" height="48" fill="#00ff7f"/>
<rect x="622" y="244" width="3" height="29" fill="#00ff7f"/>
<rect x="627" y="265" width="1" height="90" fill="#00ff7f"/>
<rect x="626" y="272" width="3" height="82" fill="#00ff7f"/>
<rect x="631" y="352" width="1" height="93" fill="#00ff7f"/>
<rect x="630" y="353" width="3" height="67" fill="#00ff7f"/>
<rect x="635" y="383" width="1" height="54" fill="#ff0000"/>
<rect x="634" y="399" width="3" height="20" fill="#ff0000"/>
<rect x="639" y="395" width="1" height="15" fill="#00ff7f"/>
<rect x="638" y="399" width="3" height="9" fill="#00ff7f"/>
<rect x="643" y="394" width="1" height="31" fill="#00ff7f"/>
<rect x="642" y="405" width="3" height="15" fill="#00ff7f"/>
<rect x="647" y="399" width="1" height="45" fill="#00ff7f"/>
<rect x="646" y="418" width="3" height="6" fill="#00ff7f"/>
<rect x="651" y="415" width="1" height="64" fill="#00ff7f"/>
<rect x="650" y="422" width="3" height="45" fill="#00ff7f"/>
<rect x="655" y="453" width="1" height="38" fill="#00ff7f"/>
<rect x="654" y="465" width="3" height="24" fill="#00ff7f"/>
<rect x="659" y="482" width="1" height="34" fill="#00ff7f"/>
<rect x="658" y="487" width="3" height="12" fill="#00ff7f"/>
<rect x="663" y="488" width="1" height="9" fill="#ff0000"/>
<rect x="662" y="489" width="3" height="5" fill="#ff0000"/>
<rect x="667" y="448" width="1" height="48" fill="#ff0000"/>
<rect x="666" y="456" width="3" height="35" fill="#ff0000"/>
<rect x="671" y="452" width="1" height="35" fill="#00ff7f"/>
<rect x="670" y="456" width="3" height="29" fill="#00ff7f"/>
<rect x="675" y="468" width="1" height="51" fill="#00ff7f"/>
<rect x="674" y="491" width="3" height="26" fill="#00ff7f"/>
<rect x="679" y="499" width="1" height="33" fill="#00ff7f"/>
<rect x="678" y="515" width="3" height="9" fill="#00ff7f"/>
<rect x="683" y="455" width="1" height="70" fill="#ff0000"/>
<rect x="682" y="494" width="3" height="30" fill="#ff0000"/>
<rect x="687" y="498" width="1" height="7" fill="#ff0000"/>
<rect x="686" y="499" width="3" height="2" fill="#ff0000"/>
<rect x="691" y="479" width="1" height="45" fill="#ff0000"/>
<rect x="690" y="480" width="3" height="20" fill="#ff0000"/>
<rect x="695" y="452" width="1" height="34" fill="#ff0000"/>
<rect x="694" y="462" width="3" height="20" fill="#ff0000"/>
<rect x="699" y="448" width="1" height="66" fill="#00ff7f"/>
<rect x="698" y="461" width="3" height="44" fill="#00ff7f"/>
<rect x="703" y="489" width="1" height="40" fill="#00ff7f"/>
<rect x="702" y="502" width="3" height="6" fill="#00ff7f"/>
<rect x="707" y="505" width="1" height="43" fill="#00ff7f"/>
<rect x="706" y="506" width="3" height="31" fill="#00ff7f"/>
<rect x="711" y="532" width="1" height="7" fill="#ff0000"/>
<rect x="710" y="533" width="3" height="5" fill="#ff0000"/>
<rect x="715" y="518" width="1" height="27" fill="#ff0000"/>
<rect x="714" y="522" width="3" height="13" fill="#ff0000"/>
<rect x="719" y="489" width="1" height="55" fill="#ff0000"/>
<rect x="718" y="493" width="3" height="31" fill="#ff0000"/>
<rect x="723" y="488" width="1" height="46" fill="#00ff7f"/>
<rect x="722" y="492" width="3" height="28" fill="#00ff7f"/>
<rect x="727" y="486" width="1" height="63" fill="#00ff7f"/>
<rect x="726" y="517" width="3" height="17" fill="#00ff7f"/>
<rect x="731" y="475" width="1" height="67" fill="#ff0000"/>
<rect x="730" y="512" width="3" height="23" fill="#ff0000"/>
<rect x="735" y="514" width="1" height="5" fill="#ff0000"/>
<rect x="734" y="515" width="3" height="3" fill="#ff0000"/>
<rect x="739" y="459" width="1" height="71" fill="#ff0000"/>
<rect x="738" y="460" width="3" height="60" fill="#ff0000"/>
<rect x="743" y="433" width="1" height="35" fill="#ff0000"/>
<rect x="742" y="453" width="3" height="9" fill="#ff0000"/>
<rect x="747" y="444" width="1" height="25" fill="#ff0000"/>
<rect x="746" y="449" width="3" height="3" fill="#ff0000"/>
<rect x="751" y="431" width="1" height="41" fill="#ff0000"/>
<rect x="750" y="435" width="3" height="16" fill="#ff0000"/>
<rect x="755" y="407" width="1" height="34" fill="#ff0000"/>
<rect x="754" y="427" width="3" height="11" fill="#ff0000"/>
<rect x="759" y="429" width="1" height="5" fill="#ff0000"/>
<rect x="758" y="430" width="3" height="3" fill="#ff0000"/>
<rect x="763" y="419" width="1" height="23" fill="#00ff7f"/>
<rect x="762" y="430" width="3" height="4" fill="#00ff7f"/>
<rect x="767" y="412" width="1" height="39" fill="#00ff7f"/>
<rect x="766" y="432" width="3" height="15" fill="#00ff7f"/>
<rect x="771" y="398" width="1" height="82" fill="#ff0000"/>
<rect x="770" y="409" width="3" height="38" fill="#ff0000"/>
<rect x="775" y="369" width="1" height="52" fill="#ff0000"/>
<rect x="774" y="395" width="3" height="16" fill="#ff0000"/>
<rect x="779" y="355" width="1" height="52" fill="#00ff7f"/>
<rect x="778" y="397" width="3" height="2" fill="#00ff7f"/>
<rect x="783" y="402" width="1" height="7" fill="#00ff7f"/>
<rect x="782" y="403" width="3" height="2" fill="#00ff7f"/>
<rect x="787" y="370" width="1" height="55" fill="#ff0000"/>
<rect x="786" y="395" width="3" height="10" fill="#ff0000"/>
<rect x="791" y="336" width="1" height="81" fill="#ff0000"/>
<rect x="790" y="343" width="3" height="53" fill="#ff0000"/>
<rect x="795" y="295" width="1" height="51" fill="#ff0000"/>
<rect x="794" y="318" width="3" height="27" fill="#ff0000"/>
<rect x="799" y="317" width="1" height="74" fill="#00ff7f"/>
<rect x="798" y="318" width="3" height="66" fill="#00ff7f"/>
<rect x="803" y="348" width="1" height="57" fill="#00ff7f"/>
<rect x="802" y="383" width="3" height="18" fill="#00ff7f"/>
<rect x="807" y="391" width="1" height="6" fill="#ff0000"/>
<rect x="806" y="392" width="3" height="4" fill="#ff0000"/>
<rect x="811" y="367" width="1" height="30" fill="#ff0000"/>
<rect x="810" y="377" width="3" height="18" fill="#ff0000"/>
<rect x="815" y="334" width="1" height="86" fill="#00ff7f"/>
<rect x="814" y="378" width="3" height="17" fill="#00ff7f"/>
<rect x="819" y="309" width="1" height="90" fill="#ff0000"/>
<rect x="818" y="320" width="3" height="75" fill="#ff0000"/>
<rect x="823" y="299" width="1" height="43" fill="#ff0000"/>
<rect x="822" y="315" width="3" height="8" fill="#ff0000"/>
<rect x="827" y="310" width="1" height="50" fill="#00ff7f"/>
<rect x="826" y="315" width="3" height="39" fill="#00ff7f"/>
<rect x="831" y="352" width="1" height="5" fill="#00ff7f"/>
<rect x="830" y="353" width="3" height="3" fill="#00ff7f"/>
<rect x="835" y="300" width="1" height="67" fill="#ff0000"/>
<rect x="834" y="306" width="3" height="48" fill="#ff0000"/>
<rect x="839" y="294" width="1" height="30" fill="#00ff7f"/>
<rect x="838" y="306" width="3" height="11" fill="#00ff7f"/>
<rect x="843" y="313" width="1" height="53" fill="#00ff7f"/>
<rect x="842" y="315" width="3" height="25" fill="#00ff7f"/>
<rect x="847" y="317" width="1" height="33" fill="#ff0000"/>
<rect x="846" y="332" width="3" height="8" fill="#ff0000"/>
<rect x="851" y="299" width="1" height="50" fill="#00ff7f"/>
<rect x="850" y="330" width="3" height="4" fill="#00ff7f"/>
<rect x="855" y="314" width="1" height="8" fill="#00ff7f"/>
<rect x="854" y="317" width="3" height="2" fill="#00ff7f"/>
<rect x="859" y="316" width="1" height="55" fill="#00ff7f"/>
<rect x="858" y="316" width="3" height="50" fill="#00ff7f"/>
<rect x="863" y="328" width="1" height="60" fill="#ff0000"/>
<rect x="862" y="340" width="3" height="26" fill="#ff0000"/>
<rect x="867" y="315" width="1" height="28" fill="#ff0000"/>
<rect x="866" y="323" width="3" height="19" fill="#ff0000"/>
<rect x="871" y="314" width="1" height="37" fill="#00ff7f"/>
<rect x="870" y="323" width="3" height="20" fill="#00ff7f"/>
<rect x="875" y="303" width="1" height="68" fill="#ff0000"/>
<rect x="874" y="312" width="3" height="32" fill="#ff0000"/>
<rect x="879" y="313" width="1" height="6" fill="#ff0000"/>
<rect x="878" y="315" width="3" height="2" fill="#ff0000"/>
<rect x="883" y="282" width="1" height="39" fill="#ff0000"/>
<rect x="882" y="303" width="3" height="14" fill="#ff0000"/>
<rect x="887" y="265" width="1" height="43" fill="#ff0000"/>
<rect x="886" y="298" width="3" height="6" fill="#ff0000"/>
<rect x="891" y="297" width="1" height="96" fill="#00ff7f"/>
<rect x="890" y="298" width="3" height="89" fill="#00ff7f"/>
<rect x="895" y="370" width="1" height="44" fill="#ff0000"/>
<rect x="894" y="382" width="3" height="6" fill="#ff0000"/>
<rect x="899" y="379" width="1" height="61" fill="#00ff7f"/>
<rect x="898" y="383" width="3" height="44" fill="#00ff7f"/>
<rect x="903" y="427" width="1" height="7" fill="#00ff7f"/>
<rect x="902" y="429" width="3" height="2" fill="#00ff7f"/>
<rect x="907" y="423" width="1" height="32" fill="#ff0000"/>
<rect x="906" y="429" width="3" height="3" fill="#ff0000"/>
<rect x="911" y="412" width="1" height="47" fill="#00ff7f"/>
<rect x="910" y="429" width="3" height="20" fill="#00ff7f"/>
<rect x="915" y="394" width="1" height="57" fill="#ff0000"/>
<rect x="914" y="417" width="3" height="31" fill="#ff0000"/>
<rect x="919" y="390" width="1" height="36" fill="#ff0000"/>
<rect x="918" y="396" width="3" height="23" fill="#ff0000"/>
<rect x="923" y="341" width="1" height="59" fill="#ff0000"/>
<rect x="922" y="342" width="3" height="57" fill="#ff0000"/>
<rect x="927" y="390" width="1" height="10" fill="#ff0000"/>
<rect x="926" y="394" width="3" height="5" fill="#ff0000"/>
<rect x="931" y="352" width="1" height="45" fill="#ff0000"/>
<rect x="930" y="373" width="3" height="23" fill="#ff0000"/>
<rect x="935" y="331" width="1" height="51" fill="#ff0000"/>
<rect x="934" y="373" width="3" height="3" fill="#ff0000"/>
<rect x="939" y="321" width="1" height="55" fill="#ff0000"/>
<rect x="938" y="329" width="3" height="46" fill="#ff0000"/>
<rect x="943" y="323" width="1" height="53" fill="#00ff7f"/>
<rect x="942" y="329" width="3" height="33" fill="#00ff7f"/>
<rect x="947" y="328" width="1" height="38" fill="#ff0000"/>
<rect x="946" y="346" width="3" height="15" fill="#ff0000"/>
<rect x="951" y="352" width="1" height="4" fill="#00ff7f"/>
<rect x="950" y="353" width="3" height="2" fill="#00ff7f"/>
<rect x="955" y="325" width="1" height="41" fill="#00ff7f"/>
<rect x="954" y="354" width="3" height="5" fill="#00ff7f"/>
<rect x="959" y="348" width="1" height="35" fill="#00ff7f"/>
<rect x="958" y="356" width="3" height="22" fill="#00ff7f"/>
<rect x="963" y="338" width="1" height="39" fill="#ff0000"/>
<rect x="962" y="359" width="3" height="17" fill="#ff0000"/>
<rect x="967" y="347" width="1" height="36" fill="#ff0000"/>
<rect x="966" y="353" width="3" height="9" fill="#ff0000"/>
<rect x="971" y="346" width="1" height="51" fill="#00ff7f"/>
<rect x="970" y="353" width="3" height="20" fill="#00ff7f"/>
<rect x="975" y="375" width="1" height="7" fill="#ff0000"/>
<rect x="974" y="377" width="3" height="2" fill="#ff0000"/>
<rect x="979" y="360" width="1" height="29" fill="#ff0000"/>
<rect x="978" y="373" width="3" height="7" fill="#ff0000"/>
<rect x="983" y="337" width="1" height="63" fill="#00ff7f"/>
<rect x="982" y="372" width="3" height="22" fill="#00ff7f"/>
<rect x="987" y="302" width="1" height="101" fill="#ff0000"/>
<rect x="986" y="307" width="3" height="87" fill="#ff0000"/>
<rect x="991" y="292" width="1" height="31" fill="#ff0000"/>
<rect x="990" y="300" width="3" height="8" fill="#ff0000"/>
<rect x="995" y="298" width="1" height="33" fill="#00ff7f"/>
<rect x="994" y="299" width="3" height="14" fill="#00ff7f"/>
<rect x="999" y="319" width="1" height="8" fill="#00ff7f"/>
<rect x="998" y="320" width="3" height="5" fill="#00ff7f"/>
<rect x="1003" y="305" width="1" height="33" fill="#00ff7f"/>
<rect x="1002" y="325" width="3" height="3" fill="#00ff7f"/>
<rect x="1007" y="301" width="1" height="39" fill="#ff0000"/>
<rect x="1006" y="312" width="3" height="16" fill="#ff0000"/>
<rect x="1011" y="294" width="1" height="40" fill="#ff0000"/>
<rect x="1010" y="301" width="3" height="13" fill="#ff0000"/>
<rect x="1015" y="295" width="1" height="60" fill="#00ff7f"/>
<rect x="1014" y="302" width="3" height="38" fill="#00ff7f"/>
<rect x="1019" y="329" width="1" height="101" fill="#00ff7f"/>
<rect x="1018" y="338" width="3" height="83" fill="#00ff7f"/>
<rect x="1023" y="402" width="1" height="12" fill="#ff0000"/>
<rect x="1022" y="403" width="3" height="10" fill="#ff0000"/>
<rect x="1027" y="375" width="1" height="32" fill="#ff0000"/>
<rect x="1026" y="385" width="3" height="21" fill="#ff0000"/>
<rect x="1031" y="375" width="1" height="36" fill="#00ff7f"/>
<rect x="1030" y="385" width="3" height="19" fill="#00ff7f"/>
<rect x="1035" y="383" width="1" height="36" fill="#00ff7f"/>
<rect x="1034" y="402" width="3" height="3" fill="#00ff7f"/>
<rect x="1039" y="397" width="1" height="64" fill="#00ff7f"/>
<rect x="1038" y="403" width="3" height="53" fill="#00ff7f"/>
<rect x="1043" y="448" width="1" height="21" fill="#00ff7f"/>
<rect x="1042" y="454" width="3" height="14" fill="#00ff7f"/>
<rect x="1047" y="456" width="1" height="6" fill="#ff0000"/>
<rect x="1046" y="457" width="3" height="4" fill="#ff0000"/>
<rect x="1051" y="454" width="1" height="45" fill="#00ff7f"/>
<rect x="1050" y="458" width="3" height="37" fill="#00ff7f"/>
<rect x="1055" y="465" width="1" height="42" fill="#ff0000"/>
<rect x="1054" y="487" width="3" height="7" fill="#ff0000"/>
<rect x="1059" y="476" width="1" height="33" fill="#00ff7f"/>
<rect x="1058" y="487" width="3" height="17" fill="#00ff7f"/>
<rect x="1063" y="488" width="1" height="33" fill="#00ff7f"/>
<rect x="1062" y="501" width="3" height="6" fill="#00ff7f"/>
<rect x="1067" y="501" width="1" height="17" fill="#00ff7f"/>
<rect x="1066" y="505" width="3" height="9" fill="#00ff7f"/>
<rect x="1071" y="509" width="1" height="8" fill="#ff0000"/>
<rect x="1070" y="510" width="3" height="5" fill="#ff0000"/>
<rect x="1075" y="499" width="1" height="25" fill="#00ff7f"/>
<rect x="1074" y="510" width="3" height="9" fill="#00ff7f"/>
<rect x="1079" y="483" width="1" height="46" fill="#ff0000"/>
<rect x="1078" y="490" width="3" height="29" fill="#ff0000"/>
<rect x="1083" y="399" width="1" height="105" fill="#ff0000"/>
<rect x="1082" y="433" width="3" height="58" fill="#ff0000"/>
<rect x="1087" y="422" width="1" height="36" fill="#ff0000"/>
<rect x="1086" y="430" width="3" height="6" fill="#ff0000"/>
<rect x="1091" y="409" width="1" height="44" fill="#00ff7f"/>
<rect x="1090" y="430" width="3" height="20" fill="#00ff7f"/>
<rect x="1099" y="436" width="1" height="25" fill="#ff0000"/>
<rect x="1098" y="442" width="3" height="17" fill="#ff0000"/>
<rect x="1103" y="423" width="1" height="50" fill="#ff0000"/>
<rect x="1102" y="441" width="3" height="3" fill="#ff0000"/>
<rect x="1107" y="411" width="1" height="33" fill="#ff0000"/>
<rect x="1106" y="417" width="3" height="26" fill="#ff0000"/>
<rect x="1111" y="408" width="1" height="28" fill="#00ff7f"/>
<rect x="1110" y="417" width="3" height="10" fill="#00ff7f"/>
<rect x="1115" y="377" width="1" height="51" fill="#ff0000"/>
<rect x="1114" y="384" width="3" height="43" fill="#ff0000"/>
<rect x="1119" y="383" width="1" height="7" fill="#ff0000"/>
<rect x="1118" y="384" width="3" height="5" fill="#ff0000"/>
<rect x="1123" y="377" width="1" height="21" fill="#ff0000"/>
<rect x="1122" y="379" width="3" height="8" fill="#ff0000"/>
<rect x="1127" y="368" width="1" height="14" fill="#ff0000"/>
<rect x="1126" y="370" width="3" height="11" fill="#ff0000"/>
</g>
<g shape-rendering="crispEdges">
<polyline points="3.5,311.5 16.9,278.5 24.0,253.0 32.5,231.5 38.9,207.5 47.5,186.1 55.3,164.5 58.8,162.5 68.5,160.5 71.9,162.8 78.5,171.9 86.9,185.2 96.8,205.2 103.5,226.8 110.1,245.5 116.8,263.8 123.4,281.2 130.1,302.0 136.7,320.3 141.7,335.2 150.0,348.5 158.3,363.5 166.5,373.5 171.5,378.5 176.5,381.5 183.2,380.1 191.5,378.7 196.5,380.9 203.2,380.9 208.1,384.5 214.8,391.3 221.5,394.5 227.1,396.9 233.8,401.9 240.5,398.5 247.1,394.5 252.1,392.8 256.2,386.9 260.4,384.5 265.4,383.5 270.3,378.5 277.0,367.0 286.9,354.5 293.5,348.5 301.9,342.1 310.2,328.5 317.7,319.2 326.8,300.1 333.5,283.5 340.1,276.8 348.4,270.2 353.4,271.0 361.7,278.5 371.7,284.3 380.0,281.3 388.3,281.0 396.5,281.0 404.9,278.8 411.5,281.0 419.8,284.8 426.3,287.0 431.3,287.9 437.1,280.4 445.4,270.4 453.7,263.0 462.0,258.8 468.7,251.5 477.0,243.4 486.9,230.1 493.5,226.0 503.5,216.0 511.0,211.0 516.8,210.2 523.5,212.7 528.5,216.0 535.1,216.0 540.1,213.9 545.1,213.9 548.4,215.5 555.1,212.7 561.7,207.7 568.3,205.2 574.1,205.5 580.0,207.7 584.9,213.5 591.5,226.8 596.5,237.5 603.2,243.4 608.2,245.9 616.5,246.7 623.1,251.5 629.8,260.5 634.8,272.1 639.8,286.2 644.8,300.3 649.7,316.9 654.7,333.5 658.2,347.1 664.9,368.7 673.2,385.3 681.5,398.5 689.8,416.9 696.4,433.5 700.2,442.1 705.2,462.0 711.9,477.0 720.2,487.0 728.5,496.9 735.9,503.5 743.4,499.4 751.7,496.9 758.4,490.3 765.0,484.5 771.7,479.5 780.0,472.8 788.3,462.0 794.9,443.5 801.5,433.8 808.2,425.5 814.4,413.5 822.7,396.9 829.7,390.5 836.4,380.1 844.7,368.5 853.0,358.5 859.6,354.3 866.3,348.5 872.9,345.5 879.5,344.4 884.5,338.5 887.9,336.0 896.2,336.0 901.2,339.4 907.8,346.8 914.5,355.2 922.8,361.8 931.1,365.9 939.4,368.4 947.7,369.0 958.5,372.9 965.2,377.9 971.0,381.2 976.8,381.7 983.5,379.0 990.1,370.4 996.8,360.4 1003.5,353.0 1010.1,348.0 1015.9,345.8 1021.5,348.8 1030.0,353.0 1036.5,357.1 1043.3,365.4 1051.5,377.0 1059.9,388.5 1068.2,402.0 1074.9,418.5 1081.5,431.9 1088.1,440.2 1092.5,449.4 1097.2,456.5 1101.9,459.5 1107.9,460.1 1112.5,461.9 1119.5,460.9 1123.9,457.3 1126.5,453.5" fill="none" stroke="#ffff00" stroke-width="1" />
<polyline points="3.5,290.5 6.9,277.1 14.7,245.5 21.8,224.5 27.1,206.8 33.7,188.5 40.4,162.0 48.7,133.5 56.1,113.8 59.0,111.8 63.5,115.5 68.5,125.5 73.5,147.0 80.2,178.5 86.9,211.8 94.4,245.5 100.2,272.1 106.8,307.0 111.8,333.5 116.8,345.2 121.8,350.5 126.7,349.3 133.4,342.3 138.4,341.8 146.7,343.5 153.3,353.5 160.0,366.8 168.3,385.5 171.5,392.1 176.5,398.0 181.5,402.9 187.4,407.9 193.2,404.5 199.8,403.8 204.8,401.8 209.8,395.5 214.8,385.5 221.5,375.1 228.0,367.8 232.1,373.5 237.1,383.5 242.1,390.3 247.9,401.1 252.1,403.5 260.4,402.5 267.0,395.3 273.5,378.5 280.3,357.0 286.1,337.1 291.1,320.5 298.5,306.5 303.5,293.5 306.9,283.5 315.2,279.0 323.5,279.5 333.5,281.8 341.8,284.8 350.1,278.5 356.7,275.5 366.7,278.2 375.0,271.0 380.0,270.2 386.5,278.5 393.3,285.2 403.2,293.8 409.9,293.5 419.8,288.5 428.1,287.5 433.1,283.5 435.5,277.1 442.1,264.5 447.1,257.1 452.1,250.9 460.4,243.4 467.0,235.1 475.3,223.5 482.0,212.5 486.9,207.7 491.9,211.9 496.9,213.9 503.5,212.7 511.0,212.7 516.8,211.0 523.5,211.0 528.5,215.2 535.1,214.9 540.1,217.2 544.3,218.8 548.4,217.7 553.4,212.7 560.0,207.7 565.8,202.7 570.8,201.9 576.6,204.4 581.6,206.0 586.6,213.5 591.5,223.5 596.5,238.5 603.2,251.5 609.9,263.0 616.5,272.1 622.3,282.1 627.3,293.5 632.3,308.5 636.5,320.3 639.8,327.2 641.6,330.5 648.2,338.8 654.9,355.4 661.5,378.5 668.2,401.9 674.8,428.5 678.5,445.4 684.5,462.0 693.5,475.3 701.9,487.0 708.5,495.3 716.0,501.1 720.2,501.9 724.3,506.1 728.5,508.9 735.1,508.9 739.3,506.9 743.4,502.5 748.4,500.3 753.4,497.8 760.0,488.5 766.7,475.3 773.3,462.0 780.0,448.8 786.1,435.2 791.1,418.5 796.1,408.5 802.7,401.9 811.0,395.3 815.7,390.5 821.5,378.4 826.5,371.8 831.5,367.5 836.5,360.1 841.5,354.3 848.1,350.2 854.7,346.0 861.4,341.5 866.3,335.2 871.3,332.7 878.0,331.9 883.0,329.4 887.5,324.9 892.9,333.5 899.5,345.2 906.2,355.2 912.8,365.1 919.5,372.5 924.5,374.3 931.1,381.7 937.8,386.7 943.5,392.5 947.7,389.0 951.9,387.5 958.5,380.4 965.2,370.4 971.9,363.8 978.5,363.8 984.3,364.5 990.1,357.1 996.8,351.3 1001.5,349.5 1008.2,346.1 1015.2,339.9 1019.8,344.0 1024.8,347.9 1030.0,349.0 1036.5,353.0 1040.8,357.1 1045.0,368.5 1049.9,382.0 1054.9,397.0 1059.9,413.5 1064.9,430.2 1068.7,448.8 1071.1,455.9 1075.8,465.4 1081.7,472.5 1087.7,477.9 1093.5,479.5 1099.5,478.5 1104.3,476.5 1109.0,470.2 1113.8,463.0 1117.5,454.5 1123.2,440.2 1127.5,430.5" fill="none" stroke="#ff0000" stroke-width="1" />
<polyline points="3.5,262.5 9.0,245.5 14.7,217.5 19.0,196.5 22.1,176.5 27.1,147.0 33.7,118.5 37.9,107.5 42.5,92.5 48.5,84.5 54.5,88.5 58.5,96.5 62.0,107.5 65.3,130.5 68.5,153.5 71.9,186.5 75.3,221.5 77.7,245.5 80.2,278.5 83.5,311.5 88.5,338.5 93.5,355.1 100.2,364.5 103.5,363.5 109.3,354.5 118.4,350.1 125.1,335.2 132.2,321.1 138.4,331.0 147.5,336.5 150.0,348.5 155.8,385.5 160.0,410.5 166.5,433.5 171.5,450.5 175.7,459.5 179.1,447.0 183.2,427.0 187.4,407.1 191.5,385.5 197.3,365.1 204.0,346.8 211.5,356.0 216.5,363.5 222.3,376.5 227.1,379.5 230.5,391.9 235.5,410.2 242.1,421.8 247.9,433.1 251.2,433.1 256.2,421.8 261.2,401.9 267.0,370.3 270.3,347.1 274.5,320.5 278.5,280.2 284.5,260.2 291.9,248.5 296.9,255.2 303.5,275.2 311.9,295.1 320.2,310.9 326.8,295.1 333.5,281.5 340.1,274.4 344.3,263.5 348.4,248.5 353.4,251.9 360.0,270.2 366.7,278.5 375.8,289.3 380.0,287.5 384.1,291.8 388.3,290.1 392.5,292.5 396.1,288.5 399.9,293.5 404.1,298.5 408.2,298.5 412.4,293.5 416.5,291.0 419.8,286.0 427.3,285.2 431.5,278.5 435.4,260.5 442.1,236.8 448.7,221.8 453.7,213.2 458.7,211.0 463.7,213.5 468.7,218.8 473.7,218.2 477.8,219.8 482.0,215.2 485.3,207.7 487.8,205.5 491.9,210.2 496.9,208.5 502.7,206.9 506.9,208.5 511.0,211.9 516.0,213.5 520.2,211.0 524.3,214.4 528.5,221.0 531.8,223.8 536.0,219.8 540.1,222.5 547.5,223.8 551.7,218.5 555.1,206.9 560.0,193.5 565.0,186.1 570.8,179.5 575.0,182.8 580.0,191.9 584.1,208.5 586.6,228.5 589.9,250.5 593.3,275.5 598.2,303.5 603.2,318.5 607.9,328.9 613.2,316.9 618.2,298.5 623.2,282.9 625.5,280.1 628.1,281.2 631.5,293.5 635.5,308.5 638.3,330.5 641.6,350.4 646.6,378.5 651.6,410.2 655.7,430.2 660.3,442.1 665.3,457.1 670.3,465.4 675.3,483.5 679.5,493.3 683.5,494.9 691.9,493.5 700.2,498.3 705.2,496.1 710.2,501.1 715.2,506.1 720.2,508.5 723.5,516.0 727.5,520.5 731.8,521.8 735.9,518.5 739.3,511.9 742.5,502.5 746.7,495.3 751.7,482.0 756.7,463.5 761.7,445.4 766.7,438.8 771.5,433.8 776.1,425.2 781.1,418.5 786.1,413.5 789.4,405.2 792.8,390.3 796.1,380.3 799.4,377.0 804.4,377.8 809.4,374.5 815.2,373.4 819.3,370.4 823.5,369.5 828.5,363.7 832.6,355.4 836.0,345.4 838.0,340.2 841.4,332.7 843.9,329.9 847.2,331.1 850.5,333.5 854.7,329.4 858.0,328.9 863.0,334.4 867.1,335.5 871.3,336.5 875.4,333.2 880.4,331.1 884.5,326.1 887.5,319.9 891.2,326.1 896.2,336.9 900.3,350.2 902.1,355.5 907.1,377.0 911.2,398.5 915.4,417.2 919.5,418.5 925.3,411.9 932.0,400.3 937.0,388.5 940.3,373.5 944.4,365.5 947.8,360.5 951.9,361.8 956.9,357.1 962.7,356.3 968.5,357.9 973.5,362.1 980.2,367.9 984.3,372.1 988.5,360.4 991.8,354.5 996.8,347.1 1000.1,340.5 1003.2,333.5 1007.4,323.5 1011.5,312.9 1015.2,316.5 1018.1,327.0 1021.5,338.5 1026.5,350.5 1030.5,362.1 1035.0,375.4 1038.3,392.0 1043.3,416.9 1048.3,426.9 1053.3,443.5 1055.6,454.5 1060.4,470.2 1064.5,483.2 1069.9,492.5 1073.5,499.5 1075.8,505.1 1079.4,503.4 1082.9,496.3 1086.5,487.9 1090.0,479.5 1094.8,470.2 1099.5,460.5 1103.1,450.0 1105.5,444.1 1108.5,438.1 1111.8,436.5 1116.0,430.2 1120.3,420.3 1124.5,409.5 1127.5,401.8" fill="none" stroke="#0000cd" stroke-width="1" />
<polyline points="3.5,593.1 12.0,590.5 21.9,586.5 33.4,579.9 43.3,575.8 53.1,574.2 63.0,575.0 71.2,579.9 79.4,594.8 87.7,607.9 95.9,621.1 102.5,634.2 109.1,640.0 115.5,643.8 123.9,643.8 132.1,641.5 140.3,640.0 151.8,637.8 158.4,639.2 165.0,642.5 171.5,645.4 181.4,647.9 188.0,646.5 194.5,643.3 202.8,636.7 211.0,630.1 217.5,626.8 224.2,626.0 230.8,626.0 240.5,626.8 247.1,629.5 253.5,630.9 260.2,630.9 266.8,628.5 273.4,623.5 280.0,617.8 286.5,610.4 293.1,603.8 299.7,600.0 306.3,598.9 312.9,598.9 319.5,601.3 326.0,603.8 332.5,604.9 345.8,604.9 362.2,604.9 368.8,607.1 375.4,608.2 383.5,610.9 391.8,614.2 400.0,615.0 408.3,617.0 416.5,618.1 428.0,618.1 434.5,616.1 442.8,613.5 451.0,610.4 460.9,607.1 470.8,605.4 480.5,604.9 488.7,605.9 500.2,607.1 513.4,607.9 523.3,609.9 529.8,611.2 541.4,612.8 547.9,615.0 559.4,614.8 566.0,612.8 572.5,611.7 580.8,611.7 589.1,614.8 595.5,619.4 602.2,625.2 608.8,630.1 615.4,633.4 621.9,634.7 638.4,634.7 645.0,637.2 651.5,640.8 656.5,644.9 661.4,649.0 668.0,652.5 674.5,655.9 681.2,658.9 686.1,660.2 692.5,660.5 699.3,658.9 707.5,658.1 714.1,655.9 720.5,654.0 725.5,652.0 732.0,651.0 738.5,648.2 745.2,645.4 751.8,641.5 756.7,637.8 763.3,633.4 769.8,628.5 774.8,624.7 781.4,620.2 787.9,617.0 792.9,613.7 797.8,610.4 804.4,607.9 811.0,605.9 817.5,605.4 822.5,603.8 832.3,603.0 840.5,602.2 850.5,601.0 857.0,599.7 860.3,601.0 868.5,601.0 875.1,602.5 881.7,603.0 889.9,603.8 896.5,605.9 901.4,607.1 908.0,610.4 912.9,614.5 919.5,618.1 926.1,622.7 931.0,625.2 937.5,626.0 944.2,625.2 948.7,624.0 955.3,620.7 961.9,619.8 973.4,618.1 986.5,617.8 996.4,617.0 1003.0,615.8 1009.5,614.5 1014.5,612.5 1022.7,611.7 1027.5,612.5 1032.5,614.2 1039.2,617.0 1045.8,621.1 1052.3,626.3 1058.9,630.9 1065.5,635.9 1070.5,638.8 1075.4,641.5 1080.3,642.9 1086.9,644.1 1093.5,642.8 1100.0,640.8 1105.0,638.8 1111.5,634.5 1118.1,630.1 1123.9,626.3 1127.5,624.0" fill="none" stroke="#ff0000" stroke-width="1" stroke-dasharray="3 3"/>
<polyline points="3.5,716.0 7.5,713.5 11.5,711.1 15.5,705.0 19.5,705.0 23.5,706.5 27.5,706.9 31.5,709.9 35.5,706.1 39.5,703.5 43.5,706.5 47.5,707.8 51.5,706.5 55.5,706.5 59.5,738.2 63.5,747.2 67.5,750.0 71.5,755.5 75.5,759.3 79.5,762.9 83.5,757.5 87.5,753.0 91.5,753.0 95.5,751.7 99.5,752.5 103.5,753.8 107.5,748.5 111.5,750.5 115.5,748.4 119.5,744.5 123.5,733.8 127.5,736.5 131.5,734.5 135.5,751.7 139.5,753.0 143.5,744.8 147.5,743.5 151.5,756.3 155.5,758.8 159.5,762.0 163.5,759.5 167.5,756.5 171.5,753.8 175.5,739.8 179.5,728.0 183.5,732.9 187.5,731.5 191.5,729.2 195.5,739.0 199.5,734.9 203.5,730.8 207.5,735.7 211.5,737.9 215.5,737.9 219.5,740.5 223.5,745.9 227.5,738.2 231.5,747.7 235.5,748.1 239.5,740.5 243.5,742.3 247.5,744.8 251.5,742.3 255.5,725.9 259.5,728.0 263.5,725.0 267.5,720.9 271.5,714.3 275.5,714.0 279.5,718.8 283.5,717.5 287.5,721.8 291.5,728.3 295.5,734.9 299.5,731.9 303.5,729.5 307.5,729.5 311.5,730.8 315.5,732.5 319.5,738.7 323.5,727.5 327.5,721.8 331.5,720.9 335.5,725.9 339.5,728.8 343.5,723.4 347.5,721.8 351.5,734.5 355.5,734.9 359.5,739.8 363.5,735.7 367.5,735.7 371.5,732.9 375.5,728.8 379.5,731.3 383.5,740.5 387.5,738.7 391.5,739.8 395.5,730.8 399.5,737.9 403.5,737.9 407.5,731.5 411.5,733.5 415.5,734.9 419.5,732.5 423.5,730.0 427.5,737.0 431.5,723.4 435.5,716.0 439.5,718.8 443.5,722.5 447.5,721.8 451.5,723.4 455.5,735.7 459.5,729.2 463.5,724.2 467.5,731.5 471.5,725.9 475.5,729.5 479.5,726.5 483.5,725.9 487.5,727.5 491.5,735.7 495.5,731.5 499.5,727.0 503.5,730.0 507.5,732.8 511.5,730.0 515.5,733.8 519.5,732.9 523.5,736.9 527.5,740.5 531.5,734.1 535.5,728.0 539.5,734.5 543.5,734.9 547.5,734.5 551.5,725.9 555.5,721.8 559.5,719.0 563.5,721.8 567.5,722.1 571.5,739.8 575.5,746.8 579.5,741.2 583.5,748.9 587.5,758.8 591.5,758.8 595.5,758.8 599.5,756.0 603.5,744.8 607.5,745.5 611.5,731.9 615.5,732.9 619.5,732.9 623.5,738.2 627.5,751.0 631.5,758.8 635.5,755.0 639.5,756.0 643.5,756.8 647.5,757.5 651.5,762.0 655.5,764.5 659.5,765.8 663.5,762.9 667.5,755.1 671.5,757.9 675.5,761.5 679.5,762.5 683.5,755.0 687.5,755.8 691.5,751.0 695.5,745.9 699.5,752.5 703.5,753.0 707.5,757.5 711.5,756.3 715.5,753.8 719.5,745.9 723.5,749.7 727.5,752.7 731.5,746.9 735.5,747.7 739.5,733.5 743.5,731.9 747.5,731.5 751.5,728.3 755.5,726.7 759.5,726.7 763.5,728.0 767.5,731.5 771.5,722.5 775.5,720.5 779.5,720.9 783.5,722.5 787.5,720.5 791.5,711.1 795.5,706.9 799.5,726.7 803.5,730.8 807.5,728.7 811.5,725.9 815.5,730.8 819.5,718.5 823.5,716.8 827.5,725.4 831.5,726.7 835.5,719.3 839.5,720.9 843.5,726.7 847.5,724.7 851.5,725.9 855.5,723.4 859.5,734.9 863.5,730.0 867.5,725.9 871.5,730.8 875.5,724.7 879.5,725.9 883.5,723.1 887.5,723.1 891.5,742.8 895.5,742.3 899.5,748.4 903.5,749.7 907.5,750.0 911.5,752.7 915.5,744.8 919.5,739.0 923.5,729.2 927.5,738.7 931.5,734.9 935.5,734.5 939.5,727.0 943.5,732.9 947.5,730.8 951.5,731.5 955.5,732.9 959.5,736.9 963.5,733.5 967.5,731.5 971.5,736.5 975.5,738.2 979.5,736.9 983.5,740.5 987.5,722.5 991.5,721.8 995.5,725.0 999.5,728.0 1003.5,728.0 1007.5,725.4 1011.5,723.1 1015.5,732.5 1019.5,749.7 1023.5,745.5 1027.5,741.8 1031.5,744.5 1035.5,744.8 1039.5,753.8 1043.5,755.0 1047.5,752.7 1051.5,757.9 1055.5,756.8 1059.5,758.5 1063.5,758.8 1067.5,759.9 1071.5,759.9 1075.5,760.9 1079.5,751.4 1083.5,734.9 1087.5,733.5 1091.5,738.5 1095.5,738.7 1099.5,737.0 1103.5,735.7 1107.5,729.5 1111.5,731.5 1115.5,721.8 1119.5,723.1 1123.5,720.9 1127.5,718.8" fill="none" stroke="#1e90ff" stroke-width="1" />
</g>
<g shape-rendering="crispEdges">
<rect x="3" y="234" width="1415" height="3" fill="#ff0000"/>
<rect x="3" y="350" width="1415" height="3" fill="#ff0000"/>
<rect x="3" y="450" width="1415" height="3" fill="#00ff00"/>
<rect x="3" y="558" width="1415" height="3" fill="#0000ff"/>
<rect x="2" y="21" width="1417" height="1" fill="#000"/>
<rect x="2" y="21" width="1" height="541" fill="#000"/>
<rect x="2" y="561" width="1417" height="1" fill="#000"/>
<rect x="2" y="563" width="1417" height="1" fill="#000"/>
<rect x="2" y="563" width="1" height="105" fill="#000"/>
<rect x="2" y="667" width="1417" height="1" fill="#000"/>
<rect x="2" y="669" width="1417" height="1" fill="#000"/>
<rect x="2" y="669" width="1" height="131" fill="#000"/>
<rect x="2" y="799" width="1417" height="1" fill="#000"/>
<rect x="1418" y="21" width="1" height="779" fill="#000"/>
<rect x="2" y="448" width="7" height="7" fill="#00ff00"/>
<rect x="5" y="451" width="1" height="1" fill="#fff"/>
<rect x="1412" y="448" width="7" height="7" fill="#00ff00"/>
<rect x="1415" y="451" width="1" height="1" fill="#fff"/>
<path d="M1129 22h9l-4.5 5z" fill="#c0c0c0" shape-rendering="auto"/>
<rect x="1419" y="30" width="2" height="1" fill="#000"/>
<rect x="1419" y="63" width="2" height="1" fill="#000"/>
<rect x="1419" y="96" width="2" height="1" fill="#000"/>
<rect x="1419" y="129" width="2" height="1" fill="#000"/>
<rect x="1419" y="162" width="2" height="1" fill="#000"/>
<rect x="1419" y="195" width="2" height="1" fill="#000"/>
<rect x="1419" y="228" width="2" height="1" fill="#000"/>
<rect x="1419" y="261" width="2" height="1" fill="#000"/>
<rect x="1419" y="294" width="2" height="1" fill="#000"/>
<rect x="1419" y="327" width="2" height="1" fill="#000"/>
<rect x="1419" y="360" width="2" height="1" fill="#000"/>
<rect x="1419" y="393" width="2" height="1" fill="#000"/>
<rect x="1419" y="426" width="2" height="1" fill="#000"/>
<rect x="1419" y="459" width="2" height="1" fill="#000"/>
<rect x="1419" y="492" width="2" height="1" fill="#000"/>
<rect x="1419" y="525" width="2" height="1" fill="#000"/>
<rect x="1419" y="565" width="2" height="1" fill="#000"/>
<rect x="1419" y="618" width="2" height="1" fill="#000"/>
<rect x="1419" y="666" width="2" height="1" fill="#000"/>
<rect x="1419" y="671" width="2" height="1" fill="#000"/>
<rect x="1419" y="709" width="2" height="1" fill="#000"/>
<rect x="1419" y="760" width="2" height="1" fill="#000"/>
<rect x="1419" y="797" width="2" height="1" fill="#000"/>
<rect x="3" y="800" width="1" height="3" fill="#000"/>
<rect x="67" y="800" width="1" height="3" fill="#000"/>
<rect x="131" y="800" width="1" height="3" fill="#000"/>
<rect x="195" y="800" width="1" height="3" fill="#000"/>
<rect x="259" y="800" width="1" height="3" fill="#000"/>
<rect x="323" y="800" width="1" height="3" fill="#000"/>
<rect x="387" y="800" width="1" height="3" fill="#000"/>
<rect x="451" y="800" width="1" height="3" fill="#000"/>
<rect x="515" y="800" width="1" height="3" fill="#000"/>
<rect x="579" y="800" width="1" height="3" fill="#000"/>
<rect x="643" y="800" width="1" height="3" fill="#000"/>
<rect x="707" y="800" width="1" height="3" fill="#000"/>
<rect x="771" y="800" width="1" height="3" fill="#000"/>
<rect x="835" y="800" width="1" height="3" fill="#000"/>
<rect x="899" y="800" width="1" height="3" fill="#000"/>
<rect x="963" y="800" width="1" height="3" fill="#000"/>
<rect x="1027" y="800" width="1" height="3" fill="#000"/>
<rect x="1091" y="800" width="1" height="3" fill="#000"/>
<rect x="1420" y="229" width="39" height="11" fill="#ff0000"/>
<rect x="1420" y="345" width="39" height="11" fill="#ff0000"/>
<rect x="1420" y="365" width="39" height="11" fill="#000"/>
<rect x="1420" y="445" width="39" height="11" fill="#00ff00"/>
<rect x="1420" y="553" width="39" height="11" fill="#0000ff"/>
</g>
<text class="ax" transform="translate(1425,34) scale(0.93,1)">1.36870</text>
<text class="ax" transform="translate(1425,67) scale(0.93,1)">1.36440</text>
<text class="ax" transform="translate(1425,100) scale(0.93,1)">1.36010</text>
<text class="ax" transform="translate(1425,133) scale(0.93,1)">1.35580</text>
<text class="ax" transform="translate(1425,166) scale(0.93,1)">1.35160</text>
<text class="ax" transform="translate(1425,199) scale(0.93,1)">1.34730</text>
<text class="ax" transform="translate(1425,232) scale(0.93,1)">1.34300</text>
<text class="ax" transform="translate(1425,265) scale(0.93,1)">1.33870</text>
<text class="ax" transform="translate(1425,298) scale(0.93,1)">1.33440</text>
<text class="ax" transform="translate(1425,331) scale(0.93,1)">1.33010</text>
<text class="ax" transform="translate(1425,364) scale(0.93,1)">1.32580</text>
<text class="ax" transform="translate(1425,397) scale(0.93,1)">1.32150</text>
<text class="ax" transform="translate(1425,430) scale(0.93,1)">1.31730</text>
<text class="ax" transform="translate(1425,463) scale(0.93,1)">1.31300</text>
<text class="ax" transform="translate(1425,496) scale(0.93,1)">1.30870</text>
<text class="ax" transform="translate(1425,529) scale(0.93,1)">1.30440</text>
<g shape-rendering="crispEdges">
<rect x="1420" y="229" width="39" height="11" fill="#ff0000"/>
<rect x="1420" y="345" width="39" height="11" fill="#ff0000"/>
<rect x="1420" y="365" width="39" height="11" fill="#000"/>
<rect x="1420" y="445" width="39" height="11" fill="#00ff00"/>
<rect x="1420" y="553" width="39" height="11" fill="#0000ff"/>
</g>
<text class="axw" transform="translate(1425,238) scale(0.93,1)">1.34206</text>
<text class="axw" transform="translate(1425,354) scale(0.93,1)">1.32701</text>
<text class="axw" transform="translate(1425,374) scale(0.93,1)">1.32461</text>
<text class="axw" transform="translate(1425,454) scale(0.93,1)">1.31407</text>
<text class="axw" transform="translate(1425,562) scale(0.93,1)">1.30004</text>
<text class="ax" transform="translate(1422,574) scale(0.93,1)">0.010311</text>
<text class="ax" transform="translate(1422,622) scale(0.93,1)">0.00</text>
<text class="ax" transform="translate(1422,664) scale(0.93,1)">-0.009203</text>
<text class="ax" transform="translate(1422,680) scale(0.93,1)">100</text>
<text class="ax" transform="translate(1422,713) scale(0.93,1)">70</text>
<text class="ax" transform="translate(1422,764) scale(0.93,1)">30</text>
<text class="ax" transform="translate(1422,796) scale(0.93,1)">0</text>
<text class="ax" transform="translate(2,812) scale(0.94,1)">18 Dec 2018</text>
<text class="ax" transform="translate(66,812) scale(0.94,1)">6 Jan 2019</text>
<text class="ax" transform="translate(130,812) scale(0.94,1)">24 Jan 2019</text>
<text class="ax" transform="translate(194,812) scale(0.94,1)">12 Feb 2019</text>
<text class="ax" transform="translate(258,812) scale(0.94,1)">3 Mar 2019</text>
<text class="ax" transform="translate(322,812) scale(0.94,1)">21 Mar 2019</text>
<text class="ax" transform="translate(386,812) scale(0.94,1)">9 Apr 2019</text>
<text class="ax" transform="translate(450,812) scale(0.94,1)">29 Apr 2019</text>
<text class="ax" transform="translate(514,812) scale(0.94,1)">17 May 2019</text>
<text class="ax" transform="translate(578,812) scale(0.94,1)">5 Jun 2019</text>
<text class="ax" transform="translate(642,812) scale(0.94,1)">24 Jun 2019</text>
<text class="ax" transform="translate(706,812) scale(0.94,1)">12 Jul 2019</text>
<text class="ax" transform="translate(770,812) scale(0.94,1)">31 Jul 2019</text>
<text class="ax" transform="translate(834,812) scale(0.94,1)">19 Aug 2019</text>
<text class="ax" transform="translate(898,812) scale(0.94,1)">6 Sep 2019</text>
<text class="ax" transform="translate(962,812) scale(0.94,1)">25 Sep 2019</text>
<text class="ax" transform="translate(1026,812) scale(0.94,1)">14 Oct 2019</text>
<text class="ax" transform="translate(1090,812) scale(0.94,1)">1 Nov 2019</text>
<path d="M6.5 33h7l-3.5-5z" fill="#000"/>
<text class="ax" transform="translate(18.5,33) scale(0.99,1)">USDCAD-,Daily</text>
<text class="ax" transform="translate(93.3,33) scale(0.945,1)">1.32333 1.32481 1.32333 1.32461</text>
<text class="ax" transform="translate(7,576) scale(0.961,1)">MACD(12,26,9) 0.001121 -0.000920</text>
<text class="ax" transform="translate(7,682) scale(0.944,1)">RSI(14) 62.9561</text>
</svg>

<!-- one click trading panel -->
<div id="ocp">
  <div class="pb" style="left:0;top:0;width:52px;height:24px;background:linear-gradient(#5252fa,#3434dc);border:1px solid #1a1ac8;border-bottom:none;box-sizing:border-box"></div>
  <div class="pb" style="left:0;top:24px;width:109px;height:40px;background:linear-gradient(#3232dc,#0000a8);border:1px solid #0808b4;border-top:none;box-sizing:border-box"></div>
  <div class="pb" style="left:167px;top:0;width:52px;height:24px;background:linear-gradient(#5252fa,#3434dc);border:1px solid #1a1ac8;border-bottom:none;box-sizing:border-box"></div>
  <div class="pb" style="left:111px;top:24px;width:108px;height:40px;background:linear-gradient(#3232dc,#0000a8);border:1px solid #0808b4;border-top:none;box-sizing:border-box"></div>
  <div style="position:absolute;left:4px;top:24px;width:44px;height:1px;background:#8c8cf4"></div>
  <div style="position:absolute;left:171px;top:24px;width:44px;height:1px;background:#8c8cf4"></div>
  <!-- lot box -->
  <div style="position:absolute;left:54px;top:0;width:111px;height:22px;box-sizing:border-box;border:1px solid #a6a6a6;background:#fff"></div>
  <div style="position:absolute;left:55px;top:1px;width:20px;height:20px;background:linear-gradient(#f0f0f0,#e2e2e2 48%,#d6d6d6 52%,#cdcdcd);border-right:1px solid #a6a6a6"></div>
  <div style="position:absolute;left:144px;top:1px;width:20px;height:20px;background:linear-gradient(#f0f0f0,#e2e2e2 48%,#d6d6d6 52%,#cdcdcd);border-left:1px solid #a6a6a6"></div>
  <svg style="position:absolute;left:0;top:0" width="220" height="66"><path d="M61.5 9.5h6l-3 3.5z" fill="#5a6ea8"/><path d="M151 12.5h6l-3-3.5z" fill="#5a6ea8"/></svg>
  <div class="pt" style="left:116px;top:4px;font-size:12px;line-height:14px;color:#000">1.00</div>
  <div class="pt" id="tsell" style="left:11.7px;top:5px;font-size:12.5px;line-height:14px;transform-origin:0 0;transform:scaleX(0.86)">SELL</div>
  <div class="pt" id="tbuy" style="left:180.5px;top:5px;font-size:12.5px;line-height:14px;transform-origin:0 0;transform:scaleX(0.86)">BUY</div>
  <div class="pt" style="left:20.5px;top:44px;font-size:12.5px;line-height:14px;font-weight:bold">1.32</div>
    <div class="pt" style="left:87px;top:28px;font-size:12px;line-height:14px;font-weight:bold">1</div>
  <div class="pt" style="left:130.5px;top:44px;font-size:12.5px;line-height:14px;font-weight:bold">1.32</div>
    <div class="pt" style="left:197.5px;top:28px;font-size:12px;line-height:14px;font-weight:bold">6</div>
  <svg style="position:absolute;left:0;top:0" width="220" height="66"><defs><linearGradient id="pg" gradientUnits="userSpaceOnUse" x1="0" y1="24" x2="0" y2="64"><stop offset="0" stop-color="#3232dc"/><stop offset="1" stop-color="#0000a8"/></linearGradient></defs>
  <text transform="translate(46.5,56) scale(0.95,1)" font-size="35.5" fill="#fff" stroke="url(#pg)" stroke-width="0.6">46</text>
  <text transform="translate(157,56) scale(0.95,1)" font-size="35.5" fill="#fff" stroke="url(#pg)" stroke-width="0.6">48</text></svg>
</div>

<!-- bottom tabs -->
<div style="position:absolute;left:0;top:820px;width:1459px;height:1px;background:#e3e3e3"></div>
<div style="position:absolute;left:0;top:822px;width:1459px;height:1px;background:#000"></div>
<div id="tabs"></div>
<div style="position:absolute;left:327px;top:823px;width:1px;height:19px;background:#fff"></div>
<div style="position:absolute;left:328px;top:822px;width:108px;height:19px;box-sizing:border-box;background:#fff;border:1px solid #000;border-top:none;box-shadow:1px 1px 0 #9a9a9a"></div>
<div class="tab" style="left:15.8px;transform:scaleX(0.993)">EURUSD-,Daily</div><div class="sep" style="left:112px"></div>
<div class="tab" style="left:122px;transform:scaleX(1.024)">AUDUSD-,Daily</div><div class="sep" style="left:220px"></div>
<div class="tab" style="left:232.4px;transform:scaleX(0.987)">USDCHF-,Daily</div>
<div class="tab" style="left:339.5px;color:#000;transform:scaleX(1.01)">USDCAD-,Daily</div>
<div class="tab" style="left:448px;transform:scaleX(1.031)">USDCNH-,Daily</div><div class="sep" style="left:549px"></div>
<div class="tab" style="left:559px;transform:scaleX(1.006)">EURCHF-,Weekly</div><div class="sep" style="left:669px"></div>
<div class="tab" style="left:679px;transform:scaleX(1.022)">XAUUSD-,Daily</div><div class="sep" style="left:777px"></div>
<div class="tab" style="left:786.3px;transform:scaleX(1.016)">GBPUSD-,Weekly</div><div class="sep" style="left:897px"></div>
<div class="tab" style="left:907px;transform:scaleX(1.046)">UKOil-,H1</div><div class="sep" style="left:976px"></div>
<div class="tab" style="left:986.5px;transform:scaleX(1.03)">USDX-,Weekly</div><div class="sep" style="left:1081px"></div>
<div class="tab" style="left:1090.3px;transform:scaleX(0.959)">EURCHF-,H1</div><div class="sep" style="left:1173px"></div>
<div class="tab" style="left:1184.3px;transform:scaleX(1.036)">USOil-,Daily</div><div class="sep" style="left:1264px"></div>
<svg style="position:absolute;left:1430px;top:824px" width="29" height="16"><path d="M7.6 4v6.4l-3.6-3.2z" fill="#8a8a8a"/><path d="M23 4v6.4l3.6-3.2z" fill="#8a8a8a"/></svg>
</body></html>
